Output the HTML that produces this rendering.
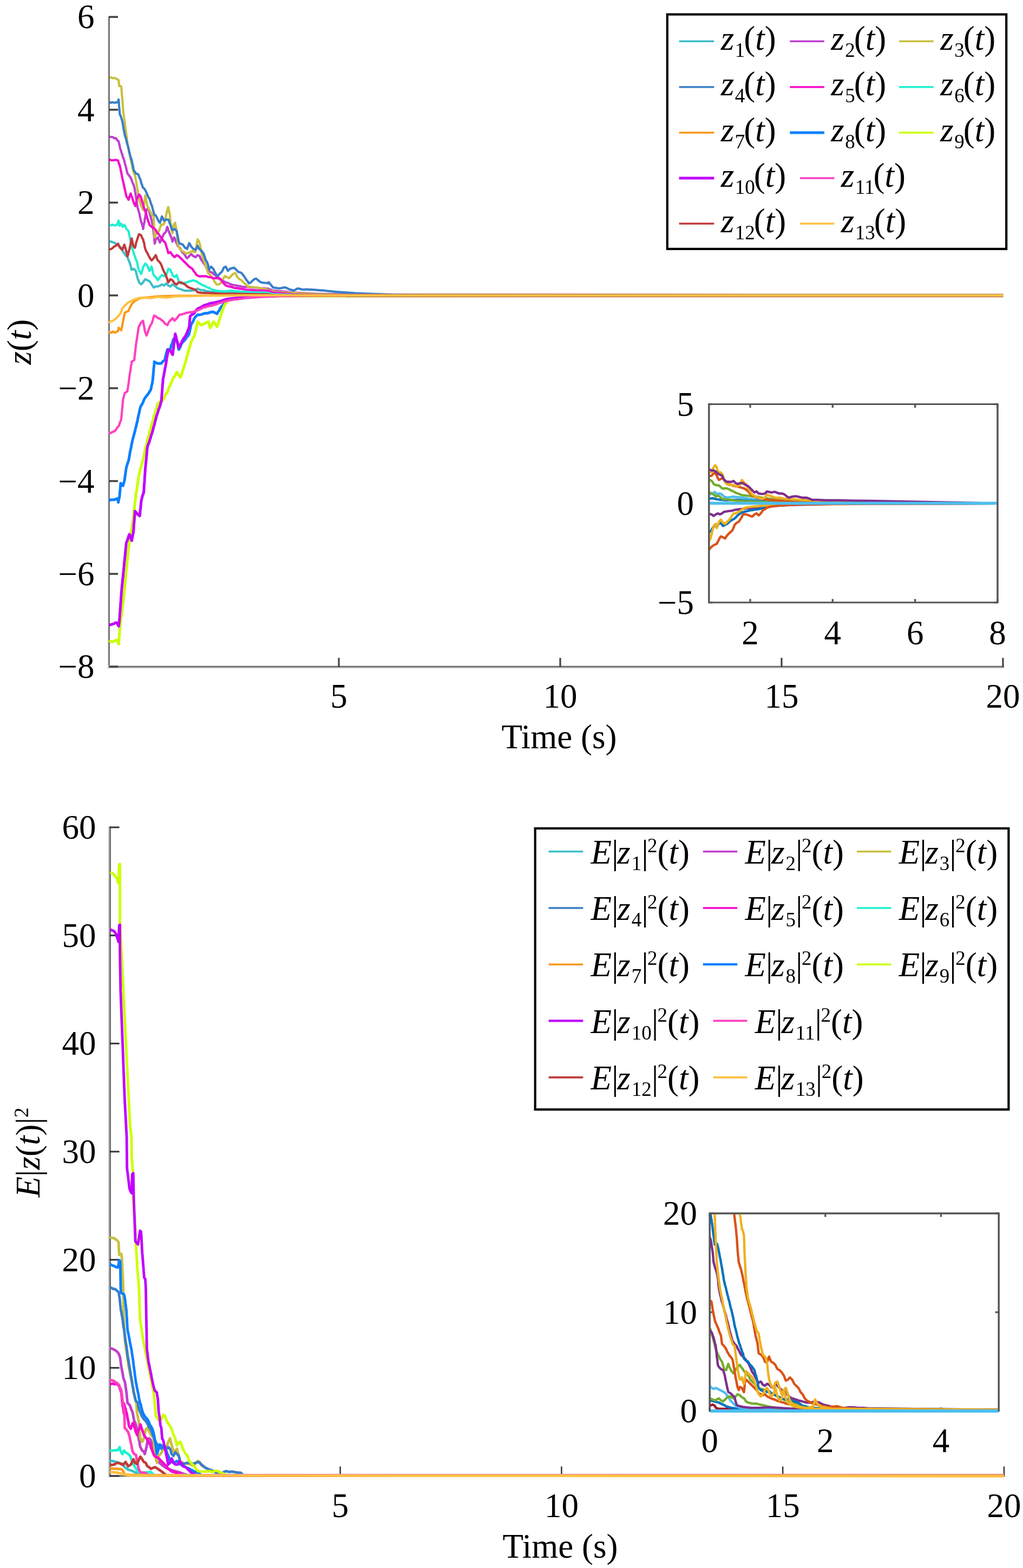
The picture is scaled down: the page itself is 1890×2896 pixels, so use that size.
<!DOCTYPE html>
<html><head><meta charset="utf-8"><title>Figure</title><style>html,body{margin:0;padding:0;background:#fff;}svg{display:block;}</style></head><body>
<svg width="1890" height="2896" viewBox="0 0 1890 2896" style="font-family: 'Liberation Serif', 'Times New Roman', serif;">
<rect width="1890" height="2896" fill="#fff"/>
<rect x="199.2" y="30" width="1.8" height="1204.4" fill="#bbbbbb"/>
<rect x="202.3" y="30" width="2.7" height="1198.8" fill="#eeeeee"/>
<rect x="201" y="30" width="1.3" height="1202.1" fill="#222222"/>
<rect x="199.2" y="1228.8" width="1655.8" height="2.1" fill="#c8c8c8"/>
<rect x="199.2" y="1232.1" width="1655.8" height="2.3" fill="#c8c8c8"/>
<rect x="201" y="1230.9" width="1654" height="1.2" fill="#222222"/>
<line x1="201.7" y1="31.3" x2="218" y2="31.3" stroke="#454545" stroke-width="3.6"/>
<text x="174.5" y="52.3" font-size="63" text-anchor="end">6</text>
<line x1="201.7" y1="202.7" x2="218" y2="202.7" stroke="#454545" stroke-width="3.6"/>
<text x="174.5" y="223.7" font-size="63" text-anchor="end">4</text>
<line x1="201.7" y1="374.2" x2="218" y2="374.2" stroke="#454545" stroke-width="3.6"/>
<text x="174.5" y="395.2" font-size="63" text-anchor="end">2</text>
<line x1="201.7" y1="545.6" x2="218" y2="545.6" stroke="#454545" stroke-width="3.6"/>
<text x="174.5" y="566.6" font-size="63" text-anchor="end">0</text>
<line x1="201.7" y1="717" x2="218" y2="717" stroke="#454545" stroke-width="3.6"/>
<text x="174.5" y="738" font-size="63" text-anchor="end">−2</text>
<line x1="201.7" y1="888.5" x2="218" y2="888.5" stroke="#454545" stroke-width="3.6"/>
<text x="174.5" y="909.5" font-size="63" text-anchor="end">−4</text>
<line x1="201.7" y1="1059.9" x2="218" y2="1059.9" stroke="#454545" stroke-width="3.6"/>
<text x="174.5" y="1080.9" font-size="63" text-anchor="end">−6</text>
<line x1="201.7" y1="1231.3" x2="218" y2="1231.3" stroke="#454545" stroke-width="3.6"/>
<text x="174.5" y="1252.3" font-size="63" text-anchor="end">−8</text>
<line x1="626" y1="1231.3" x2="626" y2="1215" stroke="#454545" stroke-width="3.2"/>
<text x="626" y="1306.5" font-size="63" text-anchor="middle">5</text>
<line x1="1035" y1="1231.3" x2="1035" y2="1215" stroke="#454545" stroke-width="3.2"/>
<text x="1035" y="1306.5" font-size="63" text-anchor="middle">10</text>
<line x1="1444" y1="1231.3" x2="1444" y2="1215" stroke="#454545" stroke-width="3.2"/>
<text x="1444" y="1306.5" font-size="63" text-anchor="middle">15</text>
<line x1="1853" y1="1231.3" x2="1853" y2="1215" stroke="#454545" stroke-width="3.2"/>
<text x="1853" y="1306.5" font-size="63" text-anchor="middle">20</text>
<text x="1033" y="1382" font-size="63" text-anchor="middle">Time (s)</text>
<polyline points="202.3,446.1 205,446 207.7,447.3 210.5,448.1 214.3,450.6 218.2,451.9 221.1,455.3 224,457.7 225.9,462.1 227.8,465.5 229.8,468.2 231.7,471.2 235.6,475.1 236.9,479 238.1,481.6 239.4,484.8 240.2,486.6 241,490.1 241.7,491.9 242.5,496.5 243.3,498.3 247.2,496.4 251,500.2 251.7,504.4 252.3,506.3 253,509.9 253.9,512.4 254.9,516.2 255.9,518.1 256.8,521.5 260.7,525.3 264.5,521.5 266.5,518.1 268.4,515.7 272.3,517.6 276.1,519.5 278.1,522 280,525.3 281.9,528.1 283.9,531.1 287.7,529.2 291.6,529.2 295.5,527.3 299.3,525.3 303.2,527.3 307,523.4 310.9,527.3 314.8,529.2 318.6,525.3 322.5,527.3 326.4,531.1 330.2,533.1 333.1,534.1 336,535 338.9,536.2 341.8,536.9 345.7,536.8 349.5,536.9 352.8,536.9 356,536.3 359.2,536 362.1,534.8 365,533.1 368.9,535 372.1,535.8 375.3,536.1 378.5,536.9 381.7,537.6 385,538.1 388.2,538.9 407.5,539.8 446.1,540.8 495,541.8 504.1,544.3 542.7,545.1 1853,545.6" fill="none" stroke="#3ebfc8" stroke-width="4.2" stroke-linejoin="round" stroke-linecap="butt"/>
<polyline points="202.3,252.3 205.3,253.2 208.3,253.1 211.3,255.5 214.3,255.2 216.7,259.1 219.1,261 219.7,263.7 220.3,266.8 220.9,268.5 221.5,271.2 222,274.5 223,276.8 224,280 224.9,283.3 225.9,285.2 226.9,289.7 227.8,291.6 228.6,293.4 229.4,296.3 230.2,298.8 230.9,303 231.7,305.1 232.5,307.9 233.2,311.2 234,314 234.8,317.8 235.6,320.6 238.5,324.2 241.4,328.3 242.7,330.9 243.9,334.6 245.2,338 246.7,341.4 248.1,345.7 248.7,347.9 249.3,352.6 249.9,355.4 250.4,358.4 251,361.1 251.4,364.6 251.7,366.2 252.1,368.8 252.5,371.6 252.8,374.2 253.2,377.4 253.6,378.6 253.9,382.4 254.9,385.5 255.9,388.9 256.8,392 257.4,394.4 258,396.4 258.6,400.6 259.1,401.8 259.7,405.6 260.7,408.9 261.6,411.2 262.6,415.2 263.6,418.1 264.5,423 265,419.4 265.5,416.2 266,413.5 266.5,411.8 267,409 267.4,405.6 267.9,402.4 268.4,400.1 268.9,396.8 269.4,394 269.9,391.9 270.3,388.2 274.2,384.3 275,387 275.7,391.3 276.5,394 277.3,397.1 278.1,399.8 278.8,401.8 279.6,405 280.4,408 281.2,411.8 281.9,415.2 282.3,418.9 282.7,421.4 283,423.9 283.4,425 283.7,429 284.1,431.8 284.5,434.5 284.8,436.5 285,439.8 285.2,441.1 285.4,443.9 285.6,447.9 285.8,450 286.8,446.7 287.7,442.3 291.6,438.4 292.9,442.5 294.2,444.7 295.5,448.1 296.7,445.7 298,440.8 299.3,438.4 300.8,436.5 302.2,432.6 306.1,428.7 307,426.4 308,422 309,419.1 309.9,421 310.9,424.9 312.2,428.2 313.5,431.7 314.8,434.5 315.7,437.1 316.7,439.4 317.7,442.8 318.6,446.1 320.1,443 321.5,438.4 323,440.4 324.4,444.2 325.7,448.4 327,450.1 328.3,453.9 332.2,457.7 334.1,460.9 336,465.5 338.9,467.5 341.8,471.2 343.7,475.2 345.7,477 349.5,473.2 353.4,469.3 357.3,473.2 361.1,475.1 365,471.2 368.9,473.2 370.8,477.9 372.7,480.9 374.7,483.4 376.6,486.7 378.5,488.7 380.5,492.5 383,496.1 385.6,499.8 388.2,502.2 391.4,503 394.6,506.3 397.8,508 401.1,511.3 404.3,513 407.5,515.7 410.7,517.7 413.9,520 417.2,521.5 420.4,522.4 423.6,523.8 426.8,525.3 429.6,526.1 432.3,526.5 435.1,527 437.9,527.4 440.6,528.6 443.4,528.4 446.1,529.2 448.9,529.7 451.7,530.1 454.4,529.9 457.2,529.9 459.9,530.3 462.7,530.5 465.5,531.1 468.1,531 470.8,531.2 473.5,531.5 476.2,531.7 478.9,532 481.6,532.3 484.3,532.5 486.9,532.7 489.6,532.6 492.3,533 495,533.1 498,534.3 501.1,535.2 504.1,536.6 506.8,536.9 509.6,537 512.4,537.5 515.1,537.8 517.9,537.8 520.6,538.2 523.4,538.5 526.2,538.7 528.9,538.9 531.7,539.2 534.4,539.8 537.2,540 540,540.1 542.7,540.4 581.4,542.4 658.6,544.3 1853,545.6" fill="none" stroke="#bf40cc" stroke-width="4.2" stroke-linejoin="round" stroke-linecap="butt"/>
<polyline points="202.3,143.2 205.3,142.9 208.3,144.4 211.3,143.9 214.3,145.1 219.1,148 219.4,151.1 219.6,153.6 219.9,155.7 220.1,158.6 224,159.6 224.2,162.5 224.5,165.1 224.7,166.6 224.9,170.2 225.1,172.9 225.4,175.7 225.6,178.1 225.8,181.5 226,183.9 226.2,185.7 226.4,188 226.6,190.4 226.8,194.5 227,196.9 227.2,199.3 227.4,201.6 227.6,204.3 227.8,206.9 228.2,209 228.5,212.3 228.9,214.1 229.2,217.7 229.6,220.4 229.9,223.1 230.3,224.8 230.7,227.1 231,230.3 231.4,233.7 231.7,235.9 232.1,238.6 232.4,241.7 232.8,243.7 233.1,246.2 233.5,250 233.8,251 234.2,253.7 234.5,257.2 234.9,259.9 235.2,262.1 235.6,264.9 236.1,267.6 236.6,270 237.1,273.2 237.7,276.3 238.2,278.8 238.7,281 239.3,283.3 239.8,286.9 240.3,288.5 240.8,291.5 241.4,293.9 242,297.4 242.6,299.8 243.2,301.9 243.8,305.4 244.4,307.9 245,311.3 245.6,313.2 246.4,316.2 247.2,318.6 248.6,322.6 250.1,326.4 250.5,330.3 251,332.2 251.5,334.8 252,338.9 252.5,341.8 253,343.7 253.4,345.9 253.9,348.6 254.4,353.2 254.9,356.2 255.4,358 255.9,360.6 256.3,364.4 256.8,366.9 257.6,370.6 258.4,371.7 259.1,374.9 259.9,378.1 260.7,380.5 262.6,383.7 264.5,388.2 264.9,385.3 265.3,382 265.7,380 266.1,376.8 266.5,373.7 266.9,371.7 267.2,368.5 267.6,365.7 268,363.1 268.4,361.1 269.1,364.2 269.7,367.2 270.3,370.8 271,374.5 271.6,377 272.3,380.5 274.2,383.8 276.1,388.2 278.1,391.4 280,395.9 283.9,399.8 284,402.2 284.1,406.1 284.2,407.8 284.3,411.3 284.5,414.9 284.6,417.9 284.7,420 284.8,423 285,426.8 285.2,429.4 285.4,431.6 285.6,434.4 285.8,438.4 287.7,433.8 289.7,430.7 293.5,426.8 294.5,424.6 295.5,420.8 296.4,418.9 297.4,415.2 301.2,415.2 303.2,412.4 305.1,407.5 305.7,405.7 306.2,401.9 306.8,398.1 307.3,396 307.9,393.1 308.4,391.3 309,388.2 309.9,385.7 310.9,382.4 311.5,386 312.1,388.2 312.6,391.5 313.2,393.5 313.8,395.9 314,398.8 314.3,402.4 314.5,404.1 314.8,408.1 315,410.9 315.3,414.1 315.5,415.2 315.7,419.1 316.5,421.3 317.2,425.9 317.9,427 318.6,430.7 319,427.5 319.4,424.7 319.8,421.4 320.2,419.2 320.6,415.2 323.5,411.4 324,415.5 324.6,417.2 325.2,419.8 325.8,424.6 326.4,426.8 326.6,429.6 326.8,432.1 327.1,434.7 327.3,437.3 327.6,441.5 327.8,443.7 328.1,447.2 328.3,450 329.6,454.2 330.9,456.4 332.2,459.7 336,463.5 339.9,465.5 343.7,468.4 347.6,467.4 351.5,465.5 355.3,463.5 358.2,465.5 361.1,465.5 361.6,461.6 362.1,460.2 362.6,457.3 363.1,454.9 363.5,449.9 364,448.1 364.5,445.3 365,442.3 367.9,446.1 368.9,450.2 369.8,453.9 370.4,456.9 371,459.5 371.6,464 372.1,467.1 372.7,469.3 373.7,472.7 374.7,476.1 375.6,478.1 376.6,480.9 377.6,482.9 378.5,487.1 379.5,488.7 380.5,492.5 381.4,495.9 382.4,498.6 383.4,500.5 384.3,504.1 388.2,508 392,511.8 394,515.1 395.9,519.5 397.8,521.8 399.8,525.3 403.6,525.3 407.5,523.4 409.4,519 411.4,515.7 413.3,513.7 415.2,509.9 419.1,511.8 423,513.7 426.8,509.9 430.7,506 434.5,504.1 436.5,507.4 438.4,511.8 442.3,515.7 446.1,517.6 449,521.1 451.9,523.4 454.8,525.9 457.7,529.2 461.6,529.5 465.5,530.2 468.7,530.5 471.9,530.7 475.1,531.1 478.3,532.2 481.6,532.2 484.8,533.1 488.2,533.7 491.6,534.2 495,535 496.4,536.6 499.4,537 502.5,537.9 505.6,538.4 508.7,539 511.8,539.7 542.7,541.2 581.4,542.8 620,543.5 697.3,544.3 1853,545.6" fill="none" stroke="#c8c040" stroke-width="4.2" stroke-linejoin="round" stroke-linecap="butt"/>
<polyline points="202.3,188.6 205,189.8 207.6,188.8 210.3,189.5 212.9,189.7 215.5,188.8 218.2,189.5 218.7,185.7 219.1,183.7 219.4,186.8 219.6,188.5 219.8,191.9 220,195.8 220.2,198.5 220.4,199.7 220.7,202.4 220.9,205.5 221.1,208.9 222,212.7 223,214 224,217.5 224.9,220.4 225.9,224.3 226.4,226.2 226.9,229.7 227.4,231.6 227.8,234.7 228.3,238.1 228.8,240.7 229.3,242.7 229.8,245.6 230.5,248.8 231.2,251 231.9,254.2 232.6,255.6 233.3,258.5 234,261.5 234.7,265 235.4,266.9 236.1,269.2 236.8,271.4 237.5,274.5 238,276.8 238.5,280 239.4,282.5 240.4,287.3 241.4,290.1 242.3,293.2 243.3,295.5 243.8,298.3 244.4,301.4 245,303.3 245.5,306.5 246.1,308.5 246.6,311.8 247.2,314.8 249.1,317.1 251,320.6 254.9,321.5 256.2,323.6 257.5,328.3 258.7,330.2 259.7,332.4 260.7,337.1 261.6,339.9 262.6,341.7 263.6,345.7 267.4,349.5 269.4,353.4 271.3,357.3 272.9,361.6 274.5,364.8 276.1,366.9 277.1,370 278.1,373.3 279,376.1 280,378.5 281,381.3 281.9,385.1 282.9,388.2 283.9,392.3 284.8,395.9 287.7,397.8 289.7,401.5 291.6,405.6 293.5,409.2 295.5,411.4 296.4,408.3 297.4,406.1 298.4,401.7 299.3,399.8 301.2,403.5 303.2,407.5 307,405.6 310.9,405.6 312.2,407.8 313.5,412.3 314.8,415.2 316.1,419.3 317.3,421.8 318.6,424.9 322.5,423 326.4,426.8 326.9,429.7 327.5,432.6 328,434.5 328.6,437.6 329.1,440.8 329.7,443.7 330.2,446.1 332.2,450 335.1,450.7 338,451.9 339.9,454.8 341.8,457.7 345.7,459.7 346.6,456.6 347.6,454.5 348.6,452.1 349.5,449 351.5,452 353.4,455.8 357.3,459.7 361.1,461.6 363.1,458.1 365,453.9 366.9,458 368.9,460.6 372.7,463.5 374.7,466.5 376.6,469.3 377.6,473.3 378.5,474.7 379.5,478.9 380.5,480.9 382.4,484.1 384.3,488.6 385,491.6 385.6,495.8 386.2,498.3 388.2,494.4 390.1,492.5 394,496.4 395.9,500.5 397.8,504.1 399.8,507.8 401.7,509.9 405.6,506 409.4,502.2 411.4,499.3 413.3,494.4 417.2,492.5 419.1,496.8 421,500.2 424.9,496.4 428.7,495.4 432.6,494.4 436.5,498.3 440.3,502.2 443.2,502.8 446.1,504.1 449,507.6 451.9,511.8 453.9,515 455.8,517.6 457.7,519.9 459.7,523.4 463.5,521.5 467.4,517.6 470.3,515.3 473.2,514.7 477,517.6 479.9,520.1 482.8,521.5 485.7,522.1 488.6,522.4 491.8,522.5 495,523.4 496.4,521.1 498.9,524.3 501.5,527.3 504.1,530.8 507,531.6 509.9,531.6 512.8,532.4 515.7,532.7 518.6,532.4 521.5,531.6 524.4,531 527.3,530.8 531.1,532.7 535,534.6 538.9,535.5 542.7,536.6 546.6,534.7 550.4,532.7 554.3,533.6 558.2,534.6 561.3,534.8 564.4,534.6 567.4,534.4 570.5,534.8 573.6,534.6 576.7,535.1 579.8,535.2 582.9,535.4 586,535.8 589.1,535.8 592.2,536.4 595.3,536.2 598.3,536.7 601.4,536.8 604.5,537.3 620,538.9 658.6,541.6 697.3,543.1 735.9,544.3 795,545.1 1853,545.6" fill="none" stroke="#3a7ec8" stroke-width="4.2" stroke-linejoin="round" stroke-linecap="butt"/>
<polyline points="202.3,294.5 205,295.8 207.6,296 210.3,296 212.9,295.2 215.5,295.7 218.2,296.4 219.1,300 220.1,303.4 221.1,304.8 222,309 222.6,311 223.1,315.4 223.7,316.4 224.3,320.4 224.8,322.4 225.4,325.9 225.9,328.3 226.6,332 227.2,334.3 227.8,336.7 228.5,339.5 229.1,343.1 229.8,345.7 230.4,348.9 231.1,351.3 231.7,354.3 232.3,357.4 233,359.6 233.6,363.1 235.6,365.3 237.5,368.9 238.5,366.1 239.4,362.2 240.4,360.4 241.4,357.3 242.8,361.8 244.3,365 245.2,368.9 246.2,370.9 247.2,374.7 248.6,377.4 250.1,380.5 250.6,378.7 251.2,374.7 251.8,373.4 252.4,369 253,366.9 254.9,363.8 256.8,359.2 258.7,361.1 260.7,365 261.5,368.1 262.2,371.1 263,373.2 263.8,376.1 264.5,378.5 265.5,382.3 266.5,385.4 267.4,386.5 268.4,390.1 269.2,392.9 270,394.5 270.7,398 271.5,400.1 272.3,403.6 273.2,405.8 274.2,409.7 275.2,411.4 276.1,415.2 280,419.1 282.9,420.3 285.8,423 287.7,424.8 289.7,428.7 293.5,432.6 295.5,436.2 297.4,438.4 299.3,440.7 301.2,444.2 305.1,448.1 306.1,450 307,454.1 308,457.2 309,459.7 309.9,463.8 310.9,467.4 314.8,465.5 316.7,468.5 318.6,471.2 322.5,475.1 326.4,471.2 330.2,473.2 334.1,477 338,480.9 341.8,484.8 345.7,488.6 349.5,492.5 352.4,494.5 355.3,496.4 357.3,499.7 359.2,502.2 361.1,504.6 363.1,508 366.9,509.9 369.8,510.6 372.7,509.9 376.6,510.3 380.5,509.9 384.3,511.6 388.2,511.8 391.4,513.2 394.6,513.8 397.8,513.7 400.7,513.8 403.6,513.7 406.5,515.7 409.4,517.6 411.4,520.9 413.3,523.4 417.2,527.3 420.1,528.3 423,529.2 426.8,529.7 430.7,531.1 433.6,532 436.5,531.9 439.4,532.6 442.3,533.1 445,533.4 447.7,533.6 450.4,534.3 453.1,534.7 455.8,535 459,535.5 462.2,535.7 465.5,536 468.1,535.9 470.8,536.2 473.5,536.5 476.2,536.4 478.9,536.6 481.6,536.2 484.3,536.7 486.9,536.5 489.6,536.6 492.3,536.8 495,536.9 498,538 501.1,539.1 504.1,540.4 542.7,543.5 581.4,544.3 1853,545.6" fill="none" stroke="#f50acb" stroke-width="4.2" stroke-linejoin="round" stroke-linecap="butt"/>
<polyline points="202.3,415.2 205.1,416.1 207.9,414.9 210.7,415.9 213.5,416.2 216.2,415.2 217.7,410.9 219.1,407.5 219.8,411.3 220.4,413.6 221.1,417.2 224,413.3 225.4,415.5 226.9,419.1 229.8,415.2 231.7,418.8 233.6,423 237.5,426.8 238.1,430.1 238.6,431.6 239.2,435.4 239.7,437.5 240.3,439.9 240.8,443.2 241.4,446.1 242.1,449 242.9,452.2 243.7,456.2 244.5,459.4 245.2,461.6 246.2,463.9 247.2,468.5 248.1,470.5 249.1,473.2 250.4,477.4 251.7,480.3 253,482.8 253.6,485.8 254.2,488.1 254.9,492.5 255.5,495.5 256.2,497.6 256.8,500.2 258.7,502.3 260.7,506 261.5,504 262.2,501.2 263,498.7 263.8,496.3 264.5,492.5 266.5,490.6 268.4,486.7 272.3,490.6 273.6,494.3 274.8,496.8 276.1,500.2 278.1,496.4 280,492.5 280.8,495.6 281.5,499.3 282.3,502 283.1,505.6 283.9,508 287.7,511.8 289.7,514.7 291.6,517.6 293.5,514.9 295.5,511.8 299.3,508 303.2,509.9 307,508 308,506.1 309,502.8 309.9,500.2 310.9,496.4 314.8,498.3 316.1,502 317.3,503.9 318.6,508 322.5,511.8 326.4,508 327.3,510.7 328.3,513.3 329.3,516.2 330.2,519.5 334.1,523.4 338,523.4 341.8,521.9 345.7,521.5 348.6,519.9 351.5,519.5 354.4,518.5 357.3,517.6 360.2,519 363.1,519.5 366,522 368.9,523.4 372.7,525.9 376.6,527.3 380.5,529.3 384.3,531.1 388.2,532.7 392,535 395.9,535.8 399.8,536.9 403.6,537.2 407.5,537.9 417.2,537.9 420.4,537.8 423.6,537.2 426.8,536.9 430,537.4 433.3,537.5 436.5,537.9 446.1,538.9 465.5,539.8 495,540.8 504.1,543.5 542.7,544.7 1853,545.6" fill="none" stroke="#20f0d0" stroke-width="4.2" stroke-linejoin="round" stroke-linecap="butt"/>
<polyline points="200.8,613.4 203.5,613.8 206.2,614.3 208.9,612.3 211.6,614.3 214.3,613.4 218.2,611.1 218.7,608.9 219.1,605.3 224,610.1 224.5,606.5 225,605.5 225.6,602.8 226.1,598.7 226.7,597.8 227.2,594.1 227.7,591.1 228.3,588.6 228.8,586.3 229.3,583.7 229.9,581.2 230.4,578 233.6,575.9 236.9,574.7 238.5,571.5 240.1,567.8 241.7,564.8 243.3,561.9 246.5,558.6 249.7,555.4 253,553.6 256.2,552.1 259.4,550.6 275.5,549 291.6,547.4 323.8,546.4 388.2,545.8 452.6,545.4 1853,546.2" fill="none" stroke="#f7991a" stroke-width="4.2" stroke-linejoin="round" stroke-linecap="butt"/>
<polyline points="201.6,924.3 204.7,923 207.8,923 210.9,923.1 214,921.7 217.1,920.6 217.8,924.2 218.5,927.9 219.3,924.1 220,920.3 220.7,917.6 221,916 221.2,912.7 221.5,908.8 221.7,906.7 222,904.2 222.2,901.9 222.5,897.7 222.7,895 222.9,892.6 227.4,897.1 228.1,893.4 228.8,891.4 229.6,889.2 230.3,885.3 230.7,882.9 231.1,878.6 231.6,876.2 232,872.6 232.4,869.8 232.8,867.6 233.2,864.7 234.1,861 235,858.3 235.9,855.3 236.8,852.8 237.6,850 238.2,848 238.7,843.9 239.2,841.9 239.7,838.7 240.2,835.6 240.7,832.9 241.2,831.2 241.8,828.5 242.3,825.5 242.8,823.1 243.3,819.4 244,817.2 244.7,813.5 245.4,810.6 246.1,808.5 246.7,805.9 247.4,803.5 248.1,801 248.8,798 249.5,795.6 250.2,792.2 250.9,789.5 251.6,787 252.3,783.5 253,780.8 253.5,778.8 254.1,776.3 254.7,772.9 255.3,769.9 255.9,767.4 256.5,765.2 257.1,762.5 257.6,759.7 258.2,756.8 258.8,755 259.4,751.8 261,749 262.6,746.3 264.2,743.2 265.8,738.9 268,734.6 270.1,732.3 272.3,729.3 274.4,726.6 276.6,722.9 278.7,719.6 279.2,717.2 279.8,713.7 280.3,711.3 280.9,709.7 281.4,706.6 281.9,703.5 282.2,701.6 282.4,699 282.7,696.3 282.9,693.4 283.2,690.8 283.4,688 283.7,685.4 283.9,681.5 284.2,678.8 284.4,676.2 284.7,674.1 284.9,671.9 285.1,668.1 288.4,670.1 291.6,671.3 294.8,671.2 298,671.3 301.2,667.2 304.5,664.9 305.2,661.3 305.8,658.4 306.5,655.8 307.2,652.7 307.9,650.9 308.6,647.9 309.3,645.6 314.1,645.6 315,643.8 316,639.3 316.9,636.4 317.8,635.4 318.7,632.7 319.6,629 320.6,626.2 323.8,627.9 327,629.5 327.5,631.8 328.1,634.6 328.6,637 329.2,639.3 329.7,643.9 330.2,645.6 331.8,643.2 333.4,639.9 335.1,635.1 336.7,632.7 339.9,629.8 343.1,626.2 345.2,622.1 347.4,620.3 349.5,616.6 350.1,613 350.6,611.5 351.2,607.8 351.7,606.9 352.2,604.1 352.8,600.5 354.4,597.1 356,595 357.6,591.5 359.2,587.6 362.4,583.7 365.6,581.2 368.9,581.4 372.1,580.9 375.3,579.6 378.5,578.5 381.7,578.8 385,578 388.2,577 391.4,576 394.6,576.3 397.8,577.9 401.1,579.6 402.7,576.1 404.3,574.5 405.9,571.4 407.5,568.3 410.7,564.8 413.9,561.9 417.2,558.6 420.4,555.4 423.1,554.4 425.7,553.7 428.4,553 431.1,552.3 433.8,551.6 436.5,550.6 452.6,548.3 484.8,547 549.2,545.8 1853,545.6" fill="none" stroke="#0a7fff" stroke-width="5.0" stroke-linejoin="round" stroke-linecap="butt"/>
<polyline points="201.6,1186 204.4,1184.5 207.2,1185.3 210,1184.7 212.8,1182.8 215.6,1182.4 217.4,1185.5 219.3,1189.7 219.5,1186.2 219.7,1183.2 219.9,1180.7 220.1,1177.8 220.3,1176.4 220.5,1172.2 220.7,1169.4 220.9,1168.2 221.1,1165.4 221.3,1160.8 221.5,1158.8 221.8,1155.8 222.1,1154.6 222.5,1150.6 222.8,1148.4 223.1,1145.9 223.5,1143.1 223.8,1139.1 224.1,1137.9 224.5,1135.5 224.8,1132 225.1,1129.1 225.5,1127.2 225.8,1125.1 226.1,1122.4 226.5,1118.1 226.8,1116.6 227.2,1113.3 227.5,1111.8 227.8,1109.1 228.2,1105.3 228.5,1103.6 228.8,1100 229.1,1098.2 229.4,1093.8 229.6,1091.8 229.9,1090.3 230.2,1086 230.4,1083.8 230.7,1081.6 231,1078.3 231.2,1076.6 231.5,1072.6 231.8,1070.8 232,1068 232.3,1064.2 232.6,1063.2 232.8,1060.5 233.1,1058 233.4,1053.9 233.6,1051.9 233.9,1048.4 234.2,1047 234.4,1044.1 234.7,1042 235,1037.7 235.2,1035.3 235.5,1032.2 235.8,1031.4 236,1028.1 236.3,1024.3 236.6,1023 236.8,1019.7 237.1,1016.9 237.4,1015.1 237.6,1011.8 238.1,1009.5 238.6,1006.2 239,1003 239.5,1000.5 239.9,997.7 240.4,994.5 240.9,991.7 241.3,989.8 241.8,988 242.2,984.4 242.7,981.2 243.2,977.6 243.6,976.8 244.1,972.8 244.5,970 245,967.6 245.3,965.4 245.6,963.1 245.9,958.7 246.2,955.9 246.5,953.5 246.9,952.5 247.2,948.7 247.5,945.1 247.8,943.6 248.1,940.6 248.4,937 248.7,934.2 249,932.1 249.3,930.8 249.6,926.9 250,925.4 250.3,921.3 250.6,918.5 250.9,916.2 251.3,912.7 251.7,911.1 252.1,907.5 252.5,906.6 252.8,903.2 253.2,899.2 253.6,897.9 254,894.9 254.4,892.7 254.8,889.9 255.2,886.2 255.6,884.4 256,882.1 256.4,878.2 256.8,876.5 257.5,874.7 258.2,871.6 259,867.9 259.7,864.9 260.4,863 261.2,860.9 261.9,858.2 262.6,854.5 263.4,852.9 264.1,850 264.7,847.4 265.2,843.9 265.8,842 266.3,839.6 266.9,837.1 267.4,833.1 268,830.3 268.5,829 269.1,825.9 269.8,824.3 270.5,820.6 271.2,818.7 271.9,814.9 272.6,811.7 273.3,810.1 274.1,806.6 274.8,805.2 275.5,802.3 276.2,798 276.9,795.9 277.6,794.3 278.4,790 279.1,787.7 279.8,784.6 280.5,783.4 281.2,781.3 281.9,777.6 282.7,775.3 283.5,773.1 284.3,768.9 285.1,767.5 286,765.2 286.8,762.2 287.6,758.2 288.4,755.7 289.2,754.4 290,751.2 290.8,747.9 291.6,745.4 294.8,742.7 298,740.1 301.2,738.9 302.6,736.8 304,733.6 305.4,729.9 306.8,727.1 308.1,726.2 309.5,723.3 310.9,719.6 312.1,715.7 313.3,713.3 314.5,712 315.7,708.2 316.9,706.3 318.1,702.7 319.4,699.6 320.6,697.1 322.7,694.9 324.9,690.2 327,687.4 329.2,691.6 331.3,694.5 333.4,697.1 334.4,693.5 335.3,692.5 336.2,689.8 337.1,685.2 338,683.4 339,680.5 339.9,677.8 340.7,674.4 341.5,672.6 342.3,670.2 343.1,667.3 343.9,664.4 344.7,660.7 345.5,658.4 346.3,655.2 347.1,653.2 347.9,649.2 348.7,647.3 349.5,643.8 350.3,642 351.2,638 352,635.6 352.8,632.7 354.4,629.4 356,625.5 357.6,623 359.2,619.8 359.9,617.5 360.6,614.4 361.3,612.2 362.1,609 362.8,604.7 363.5,602.6 364.2,599.7 364.9,595.9 365.6,594.1 368.9,598.2 372.1,600.5 375.3,599.2 378.5,597.3 381.7,595.3 385,594.1 385.8,597.1 386.6,600 387.4,603.1 388.2,605.3 389.8,603.4 391.4,599.8 393,596.9 394.6,594.1 396.8,597.4 398.9,599.9 401.1,603.7 402,599.9 402.9,598.7 403.8,595.9 404.7,591.8 405.7,589.6 406.6,586.6 407.5,584.4 408.4,580.8 409.3,579.3 410.3,575.9 411.2,573 412.1,570.9 413,568.2 413.9,565.1 416.1,561.6 418.2,558.7 420.4,555.4 423.1,554.5 425.7,553.7 428.4,552.9 431.1,552.1 433.8,551.3 436.5,550.6 452.6,548.3 484.8,547 1853,545.6" fill="none" stroke="#ccff00" stroke-width="5.0" stroke-linejoin="round" stroke-linecap="butt"/>
<polyline points="201.6,1155.1 204.4,1153.6 207.2,1153 210,1152.2 212.8,1150.2 215.6,1150 217.4,1153.3 219.3,1156.6 219.6,1154.5 220,1150.5 220.4,1147.3 220.7,1144.1 220.9,1142 221.1,1138.6 221.3,1135.5 221.5,1134 221.7,1129.8 221.9,1128.7 222.1,1126 222.3,1122.6 222.5,1119.8 222.7,1116.1 222.9,1113.6 223.1,1112.2 223.3,1109.4 223.4,1106.5 223.6,1102.7 223.8,1101.3 224,1099.1 224.2,1096.2 224.4,1092.6 224.7,1090.3 225,1087 225.2,1084.2 225.5,1080.9 225.8,1077.9 226.1,1077.1 226.3,1073.1 226.6,1070.3 226.9,1067.8 227.2,1066.1 227.4,1063.2 227.7,1060 228,1057.4 228.3,1054.1 228.5,1051.6 228.8,1048.5 229.1,1046.5 229.3,1043.5 229.6,1039.5 229.9,1037.7 230.1,1035.3 230.4,1032.8 230.6,1030.7 230.9,1027.7 231.2,1024.2 231.4,1021.7 231.7,1019.6 231.9,1016.9 232.2,1013.4 232.5,1010.8 232.7,1008.6 233,1005.6 233.2,1002.9 234.2,1000.6 235.2,998.3 236.2,994.7 237.2,992.3 238.1,988.8 239.1,986.8 240.2,990.4 241.3,993.1 242.4,995.8 243.5,998.5 244,995.5 244.5,992.2 245,989.9 245.5,987.2 246,985.6 246.5,982.4 246.7,979.8 246.9,977.7 247.1,975.1 247.3,970.9 247.5,967.9 247.7,966.5 247.9,963.1 248.2,961.2 248.4,957.7 248.6,954.4 248.8,953.3 249,950.1 249.2,947.5 249.4,944.1 252.4,947.5 255.3,951 258.2,952.9 258.5,951.1 258.8,946.6 259,944 259.3,941.2 259.6,940.1 259.8,936.9 260.1,934.7 260.4,930.7 260.6,928.2 260.9,927 261.2,923.5 262.1,920.9 262.9,916.9 263.8,913.9 264.7,912.4 265.6,908.8 265.8,906.8 266,902.5 266.1,901.6 266.3,897 266.5,894.8 266.7,892.6 266.9,890.2 267.1,887.6 267.2,883 267.4,880.7 267.6,877.7 267.8,874.8 268,873.4 268.2,869.4 268.3,867.3 268.5,864.7 268.8,862.2 269.1,859.4 269.4,856 269.7,853.4 270,850 270.3,847.7 270.5,844 270.8,841.3 271,840.3 271.3,836.1 271.5,834.8 271.8,830.2 272,828.1 272.3,825.9 273.1,823.6 274,820 274.9,819.1 275.8,815.6 276.7,813.5 277.5,810.4 278.4,808.2 279.3,804 280.2,801.9 281.1,799 281.9,796.9 282.6,793.8 283.4,790.3 284.1,787.5 284.8,785.5 285.5,783.6 286.2,780 286.9,777.2 287.7,774.9 288.4,771.1 289.2,768.7 290.1,766 291,763.4 291.9,760.7 292.8,757.2 293.6,754.4 294.5,753.5 295.4,750 296.3,748.1 297.1,743.8 298,742.2 298.2,739.5 298.4,737.8 298.6,733.2 298.8,732.7 299,728.7 299.2,726.5 299.4,724.1 299.6,721.4 299.8,718.2 300,717 300.2,712.9 300.4,709.7 300.6,707.1 300.8,706.6 301,702.3 301.2,700.3 301.8,697.1 302.3,694.8 302.9,691.7 303.4,688.5 303.9,686.5 304.5,683.3 305,679.4 305.5,677.8 306.1,674.5 306.5,672.3 307,669.8 307.4,667.1 307.8,663 308.3,660.4 308.7,659.6 309.1,655.5 309.6,654.5 310,651.9 310.5,649 310.9,645.6 315.7,648.8 317.3,652.5 319,655.2 319.3,651.4 319.6,650.5 320,646.7 320.3,644.9 320.7,642.4 321,637.7 321.4,635.6 321.7,632.6 322.1,629.7 322.4,628.6 322.7,625.3 323.1,622.3 323.4,619.9 323.8,616.6 324.5,619.6 325.2,621.3 325.9,625.3 326.6,628.4 327.4,631.3 328.1,634.4 328.8,636.2 329.5,639.7 330.2,642.3 331.8,639.7 333.4,635.8 335.1,633.7 336.7,629.5 338.8,625.9 341,623.1 343.1,619.8 344.2,616.9 345.2,615.3 346.3,612.5 347.4,609.6 348.5,606.8 349.5,603.7 349.8,601.1 350,598.7 350.2,595 350.5,591.7 350.7,589.8 350.9,588.2 351.2,584.4 353.8,581.3 356.5,580.3 359.2,578 361.3,574.6 363.5,571.8 365.6,569.9 368.9,568.6 372.1,566.9 375.3,565.1 378.5,563.6 381.7,562.7 385,561.5 388.2,560.2 390.9,559.7 393.5,559.3 396.2,558.9 398.9,558.3 401.6,557.6 404.3,557 407,556.5 409.6,555.7 412.3,554.7 415,553.7 417.7,552.9 420.4,552.2 452.6,549 484.8,547.4 549.2,545.8 1853,545.6" fill="none" stroke="#c000ff" stroke-width="5.0" stroke-linejoin="round" stroke-linecap="butt"/>
<polyline points="200.8,800.1 204.2,800 207.7,797.7 211.1,796.9 213.8,794.4 216.5,789.9 219.1,787.2 220.4,784 221.6,780.3 222.8,777.7 224,774.3 224.2,770.7 224.5,768.7 224.7,765.8 225,762.4 225.2,761.4 225.5,758.9 225.7,754.5 226,752.8 226.2,749.9 226.5,746.9 226.7,744.6 226.9,742 227.2,738.9 228,735.2 228.8,732.2 229.6,729.3 230.4,726.1 235.2,722.8 235.6,721.1 236,718.1 236.5,715 236.9,711.5 237.3,709.6 237.7,707 238.1,704 238.5,700.3 238.9,696.9 239.3,694.7 239.7,691.6 240.1,689.5 240.5,687.7 240.9,684.2 241.3,681.1 241.7,678.1 242.1,675.4 242.5,674.2 242.9,671.8 243.3,668.1 248.1,664.9 248.4,663.1 248.7,658.5 249,656.5 249.3,653.6 249.6,651.6 249.9,648.4 250.2,646.4 250.5,643.7 250.8,641.5 251.1,638.6 251.3,635.9 251.7,633.2 252.1,629.5 252.6,628.8 253,625 253.4,623.3 253.8,619.4 254.2,616.2 254.6,615.5 255,611.7 255.4,608.3 255.8,607.4 256.2,603.7 257.8,601.4 259.4,597.3 264.2,592.4 264.8,594.5 265.3,599.3 265.8,600.5 266.4,603.4 266.9,606.4 267.4,610.1 268.5,614.2 269.6,616.8 270.7,619.8 271.9,616.7 273.1,613.8 274.3,609.7 275.5,606.9 277.1,602.7 278.7,599.6 280.3,597.3 281.3,593.8 282.3,591.7 283.2,587.6 284.2,584.7 285.1,582.8 288.4,584.5 291.6,587.6 294.8,588.1 298,590.8 301.2,593.1 304.5,597.3 309.3,600.5 310.9,597 312.5,594.3 314.1,592.4 319,587.6 322.2,592.4 327,587.6 329.4,584 331.8,581.2 335.1,581.1 338.3,579.6 341,579.4 343.6,577.5 346.3,578 349.5,576.6 352.8,576.6 356,576.3 359.2,575.2 362.4,574.1 365.6,573.1 368.9,571.6 372.1,570.2 375.3,568.3 378.5,567.7 381.7,566.4 385,565.6 388.2,565.1 390.9,564.8 393.5,563.5 396.2,563.1 398.9,562.3 401.6,561.3 404.3,560.2 407,559.5 409.6,558.8 412.3,557.7 415,556.8 417.7,556.2 420.4,555.4 423.1,554.8 425.7,554.4 428.4,554 431.1,553.6 433.8,553.2 436.5,552.8 439.2,552.7 441.8,552 444.5,551.9 447.2,551.5 449.9,550.9 452.6,550.6 484.8,548.3 517,547 581.4,545.8 1853,545.6" fill="none" stroke="#ff40c0" stroke-width="4.2" stroke-linejoin="round" stroke-linecap="butt"/>
<polyline points="202.3,460.6 205.4,459.9 208.5,457.7 211.4,455.2 214.3,453.9 218.2,450 220.1,454.8 222,457.7 225.9,461.6 227.2,458.4 228.5,454.9 229.8,451.9 230.5,454.9 231.3,456.6 232.1,459.4 232.9,462.6 233.6,465.5 234.6,468.7 235.6,473.2 236.3,470.9 237.1,467.6 237.9,464.8 238.7,461.9 239.4,459.7 240,456.3 240.5,454.6 241.1,452.3 241.6,448.3 242.2,446.5 242.7,442.7 243.3,440.3 243.9,443.6 244.5,445.2 245,448.6 245.6,451 246.2,453.9 249.1,457.7 249.9,455.8 250.6,452.9 251.4,448.7 252.2,446 253,444.2 253.9,441.2 254.9,437.8 255.9,434.9 256.8,432.6 260.7,434.5 262.6,439.4 264.5,442.3 265.2,446.1 265.8,447 266.5,449.9 267.1,454.1 267.8,457.7 268.4,459.7 270.3,464.4 272.3,467.4 274.2,471.7 276.1,475.1 278.1,478.5 280,480.9 283.9,477 285.8,474.1 287.7,471.2 289,474.4 290.3,478.5 291.6,480.9 295.5,484.8 297.4,487.8 299.3,492.5 300.6,496.1 301.9,499.4 303.2,502.2 305.1,505.3 307,509.9 308,513.3 309,515.1 309.9,519.3 310.9,521.5 312.8,519 314.8,515.7 318.6,517.6 320.6,520.4 322.5,523.4 326.4,525.3 330.2,521.5 334.1,521.5 338,523.4 341.8,525.3 345.7,529.2 349.5,531.1 352.4,532.2 355.3,533.1 358.2,534.4 361.1,535 365,539.8 372.7,540.8 384.3,541.2 407.5,542.3 495,543.7 504.1,545.1 1853,546.2" fill="none" stroke="#c03a3a" stroke-width="4.2" stroke-linejoin="round" stroke-linecap="butt"/>
<polyline points="200.8,595.7 204.2,594 207.7,592.8 211.1,590.8 214.3,587.9 217.5,584.8 220.8,581.2 222.4,578.7 224,575.2 225.6,571 227.2,568.3 230.4,564.7 233.6,561.8 236.9,558.6 240.1,557 243.3,555.7 246.5,553.8 256.2,550.6 265.8,549.6 278.7,550.6 291.6,548.3 307.7,549.6 323.8,547.4 356,546.4 388.2,545.8 452.6,545.4 1853,545.4" fill="none" stroke="#ffc040" stroke-width="4.2" stroke-linejoin="round" stroke-linecap="butt"/>
<polyline points="640,545.9 1853.5,545.9" fill="none" stroke="#c98c58" stroke-width="6.6" stroke-linejoin="round" stroke-linecap="butt"/>
<polyline points="640,545.6 1853.5,545.6" fill="none" stroke="#ffc63e" stroke-width="3.4" stroke-linejoin="round" stroke-linecap="butt"/>
<text transform="translate(57,631.5) rotate(-90)" font-size="63" text-anchor="middle"><tspan font-style="italic">z</tspan>(<tspan font-style="italic">t</tspan>)</text>
<rect x="200.1" y="1526.5" width="1.8" height="1201.5" fill="#c0c0c0"/>
<rect x="202.2" y="1526.5" width="2.7" height="1201.5" fill="#666666"/>
<rect x="202.2" y="2724.6" width="1654.3" height="2.8" fill="#666666"/>
<line x1="202.6" y1="1528" x2="220.6" y2="1528" stroke="#333333" stroke-width="3.0"/>
<text x="177.5" y="1549" font-size="63" text-anchor="end">60</text>
<line x1="202.6" y1="1727.7" x2="220.6" y2="1727.7" stroke="#333333" stroke-width="3.0"/>
<text x="177.5" y="1748.7" font-size="63" text-anchor="end">50</text>
<line x1="202.6" y1="1927.3" x2="220.6" y2="1927.3" stroke="#333333" stroke-width="3.0"/>
<text x="177.5" y="1948.3" font-size="63" text-anchor="end">40</text>
<line x1="202.6" y1="2127" x2="220.6" y2="2127" stroke="#333333" stroke-width="3.0"/>
<text x="177.5" y="2148" font-size="63" text-anchor="end">30</text>
<line x1="202.6" y1="2326.7" x2="220.6" y2="2326.7" stroke="#333333" stroke-width="3.0"/>
<text x="177.5" y="2347.7" font-size="63" text-anchor="end">20</text>
<line x1="202.6" y1="2526.3" x2="220.6" y2="2526.3" stroke="#333333" stroke-width="3.0"/>
<text x="177.5" y="2547.3" font-size="63" text-anchor="end">10</text>
<line x1="202.6" y1="2726" x2="220.6" y2="2726" stroke="#333333" stroke-width="3.0"/>
<text x="177.5" y="2747" font-size="63" text-anchor="end">0</text>
<line x1="628.6" y1="2725" x2="628.6" y2="2708.5" stroke="#3a3a3a" stroke-width="2.6"/>
<text x="628.6" y="2801.5" font-size="63" text-anchor="middle">5</text>
<line x1="1037.4" y1="2725" x2="1037.4" y2="2708.5" stroke="#3a3a3a" stroke-width="2.6"/>
<text x="1037.4" y="2801.5" font-size="63" text-anchor="middle">10</text>
<line x1="1446.2" y1="2725" x2="1446.2" y2="2708.5" stroke="#3a3a3a" stroke-width="2.6"/>
<text x="1446.2" y="2801.5" font-size="63" text-anchor="middle">15</text>
<line x1="1855" y1="2725" x2="1855" y2="2708.5" stroke="#3a3a3a" stroke-width="2.6"/>
<text x="1855" y="2801.5" font-size="63" text-anchor="middle">20</text>
<polyline points="203,2698.4 205.7,2698.2 208.4,2698.7 211.1,2699.2 213.8,2700.3 216.5,2700.5 219.1,2701.7 222.4,2702.8 225.6,2703.3 228,2706.3 230.4,2709.7 233.6,2711.9 236.9,2714.5 243.3,2716.2 249.7,2719.4 259.4,2725 291.6,2725 1855,2725" fill="none" stroke="#3ebfc8" stroke-width="4.8" stroke-linejoin="round" stroke-linecap="butt"/>
<polyline points="202.7,2490.7 206.6,2490.7 210.5,2492.6 213.4,2494.2 216.2,2496.5 218.2,2498.3 220.1,2502.3 221.1,2504.7 222,2508.1 222.4,2511.7 222.8,2514.7 223.2,2517.3 223.6,2521 224,2523.5 224.6,2526.6 225.3,2530.8 225.9,2533.2 226.4,2536.3 226.9,2538.2 227.4,2542 227.8,2544.8 229.3,2548.6 230.7,2552.5 231.2,2555.3 231.6,2557.4 232,2561.2 232.4,2562.9 232.8,2565.9 233.2,2568.5 233.6,2571.8 233.9,2574.1 234.2,2576.6 234.5,2580.7 234.7,2583.2 235,2584.6 235.3,2588.5 235.6,2591.1 239.4,2595 240.7,2597.3 242,2601.8 243.3,2604.7 244.9,2608.3 245.4,2610.8 246,2613.7 246.5,2616.9 247.1,2619.6 247.6,2622.1 248.1,2624.4 249.2,2626.6 250.3,2628.9 251.3,2632.4 251.9,2635.3 252.4,2637.9 253,2641.4 253.5,2644 254,2645.2 254.6,2648.3 255.1,2651.7 255.6,2653.7 256.2,2656.6 256.7,2660.3 257.2,2660.9 257.8,2664.4 258.3,2668.1 258.9,2671 259.4,2672.7 261,2675.9 262.6,2679.1 265.8,2680.7 267.4,2685.6 268.2,2681.9 269.1,2679.3 269.9,2675.5 270.7,2672.7 271.2,2669.9 271.7,2665.9 272.3,2663 273.9,2659.1 275.5,2656.6 278.7,2659.8 279.5,2663.2 280.3,2666.8 281.1,2669.4 281.9,2672.7 283,2676.1 284.1,2679.3 285.1,2682.3 286.2,2685.6 287.3,2688 288.4,2692 291.6,2696.8 294.8,2701.7 298,2704.9 301.2,2707.2 304.5,2709.7 307.7,2711.5 310.9,2712.9 314.1,2714 317.3,2715.2 320.6,2716.2 331.8,2719.4 347.9,2725 372.1,2725 1855,2725" fill="none" stroke="#bf40cc" stroke-width="4.8" stroke-linejoin="round" stroke-linecap="butt"/>
<polyline points="203.1,2284.8 206.8,2286.3 210.5,2286.7 213.4,2289 216.2,2290.6 219.1,2294.4 219.3,2297.1 219.4,2299.6 219.5,2303.5 219.6,2307.1 219.8,2308.8 219.9,2312.6 220,2313.7 220.1,2317.6 224,2315.7 224.5,2318.6 224.9,2321.5 225.1,2323.5 225.2,2326.8 225.3,2329.7 225.5,2332.9 225.6,2334.8 225.7,2338.3 225.9,2339.7 226,2341.9 226.1,2345.3 226.3,2348.6 226.4,2351.2 226.5,2352.4 226.7,2355.5 226.8,2358.2 226.9,2361.3 227.1,2364.8 227.2,2366.2 227.3,2368.4 227.4,2372.9 227.6,2375.5 227.7,2377.9 227.8,2380 227.8,2382 227.8,2385.5 227.8,2388.3 227.8,2392.9 227.8,2394.1 227.8,2398 227.9,2399.9 228,2402.9 228,2406.9 228.1,2408.3 228.2,2412.8 228.3,2414.1 228.3,2417.6 228.4,2419.4 228.5,2422.3 228.5,2426.4 228.6,2429.4 228.7,2430.5 228.7,2433.5 228.8,2436.6 228.9,2438.4 229.1,2441.4 229.2,2444.6 229.4,2447.7 229.5,2450.5 229.6,2452.8 229.8,2455.2 229.9,2458.8 230,2461.1 230.2,2463.8 230.3,2468 230.5,2469.9 230.6,2471.4 230.7,2475.2 231.2,2479 231.6,2481.8 232,2483.3 232.4,2487.3 232.8,2488.2 233.2,2492.7 233.6,2494.5 234,2496.4 234.3,2500.6 234.7,2502.8 235,2506.1 235.4,2507.3 235.7,2510.7 236.1,2514 236.4,2514.8 236.8,2517.6 237.1,2521 237.5,2523.5 238.1,2525.5 238.6,2528.1 239.2,2530.7 239.7,2534.2 240.3,2537.6 240.8,2540 241.4,2542.8 241.9,2545.8 242.5,2547.3 243,2550.2 243.6,2554 244.1,2555.9 244.7,2558.3 245.2,2562.2 245.8,2564 246.3,2568 246.9,2571.4 247.4,2573.2 248,2574.9 248.5,2578 249.1,2581.5 250.1,2585.1 251,2588.6 252,2591.1 252.1,2593.3 252.3,2596.8 252.5,2598.7 252.6,2602.7 252.8,2606 253,2608.3 253.5,2611 254,2614.3 254.6,2615.8 255.1,2619.4 255.6,2621.6 256.2,2624.4 256.4,2627.3 256.7,2628.8 257,2632.3 257.2,2635.4 257.5,2637.2 257.8,2640.5 258.1,2643.3 258.3,2644.8 258.6,2648.4 258.9,2652.2 259.1,2654.2 259.4,2656.6 261,2659.8 262.6,2663 264.2,2660.6 265.8,2656.6 266.4,2654.3 266.9,2651.2 267.4,2648.3 268,2646.7 268.5,2643.3 269.1,2640.5 272.3,2637.3 273.9,2640.5 275.5,2643.7 277.1,2646.6 278.7,2650.1 281.1,2652.6 283.5,2656.6 283.8,2658.6 284.1,2662.2 284.3,2664.7 284.6,2667.9 284.9,2669.9 285.1,2672.4 285.4,2675.5 285.7,2677.6 286,2681.6 286.2,2683.6 286.5,2685.8 286.8,2688.8 287.6,2692 288.4,2695.6 289.2,2698.9 290,2701.7 290.8,2698.7 291.6,2695.7 292.4,2692.4 293.2,2688.8 296.4,2685.6 299.6,2680.7 302.9,2675.9 307.7,2672.7 308.8,2669.2 309.8,2666.1 310.9,2663 312.5,2659.7 314.1,2656.6 314.9,2658.8 315.7,2663.2 316.5,2666.4 317.3,2669.5 318.1,2672.9 319,2674.8 319.8,2678.8 320.6,2680.7 323.8,2679.1 327,2675.9 327.8,2679.6 328.6,2682.5 329.4,2685.1 330.2,2688.8 331,2692.2 331.8,2694.7 332.6,2697.4 333.4,2700.1 336.7,2701.4 339.9,2703.3 343.1,2703 346.3,2703.3 349.5,2703.8 352.8,2704.9 356,2706.5 359.2,2704.4 362.4,2701.7 365.6,2698.4 368.9,2700.1 370.5,2703.2 372.1,2706.5 374.8,2708.2 377.4,2709.8 380.1,2711.3 382.8,2713.1 385.5,2714.4 388.2,2716.2 404.3,2719.4 420.4,2725 1855,2725" fill="none" stroke="#c8c040" stroke-width="4.8" stroke-linejoin="round" stroke-linecap="butt"/>
<polyline points="202.7,2378.6 205.9,2378.4 209.2,2380.7 212.4,2380.6 215.8,2383.7 219.1,2386.4 219.6,2388.6 220.1,2392.8 220.6,2395.3 221.1,2398 221.4,2401.4 221.6,2403.7 221.9,2406.7 222.2,2409.6 222.5,2411.4 222.7,2413.6 223,2417.3 223.6,2421.2 224.2,2422.6 224.7,2426.7 225.3,2430.7 225.9,2432.7 226.3,2435.5 226.7,2438.4 227.1,2441.7 227.5,2444.4 227.8,2448.2 228.3,2451.6 228.8,2453.5 229.3,2455.9 229.8,2459.8 230.2,2463.1 230.5,2465.4 230.9,2468.3 231.3,2471.1 231.7,2475.2 232.2,2478.9 232.7,2480.8 233.2,2484.1 233.6,2486.8 234,2489.9 234.4,2493.8 234.8,2495.1 235.2,2499.5 235.6,2502.3 236.1,2505.9 236.5,2507.6 237,2510.8 237.5,2513.5 238,2516.4 238.5,2520.6 238.9,2522 239.4,2525.5 239.9,2528.9 240.4,2530.2 240.9,2534.8 241.4,2536.1 241.8,2540.6 242.3,2541.9 242.8,2545.1 243.3,2548.6 243.8,2551 244.3,2553.9 244.7,2557.9 245.2,2560.2 245.7,2562.1 246.2,2565.3 246.7,2568.7 247.2,2571.8 247.9,2575.4 248.7,2578.3 249.5,2581 250.2,2584.9 251,2587.3 254.9,2591.1 255.3,2595.2 255.7,2598.2 256.2,2600.2 257.2,2604 258.3,2606.5 259.4,2608.3 260.5,2612 261.5,2614.1 262.6,2616.3 265.8,2621.2 269.1,2624.4 272.3,2629.2 273.9,2632.9 275.5,2635.7 278.7,2640.5 279.8,2643.4 280.9,2645.6 281.9,2648.5 283,2652 284.1,2653.6 285.1,2656.6 286.2,2660.2 287.3,2661.8 288.4,2664.6 291.6,2669.5 294.8,2672.7 298,2675.9 301.2,2671.1 304.5,2672.7 307.7,2675.9 310.9,2672.7 314.1,2675.9 315.2,2678.2 316.3,2683 317.3,2685.6 320.6,2688.8 322.2,2685.5 323.8,2682.3 327,2685.6 330.2,2688.8 331,2691.3 331.8,2695.6 332.6,2698.8 333.4,2701.7 336.7,2702.8 339.9,2703.3 342.6,2702.7 345.2,2701.9 347.9,2701.7 350.6,2701.9 353.3,2702.8 356,2703.3 359.2,2702.6 362.4,2701.7 365.6,2700.1 368.9,2701.7 372.1,2704.9 374.8,2707.1 377.4,2709 380.1,2711.3 382.8,2712.2 385.5,2713.7 388.2,2714.5 396.2,2717.8 404.3,2725 412.3,2719.4 417.2,2717 423.6,2718.6 428.4,2717.8 436.5,2719.4 445,2720.2 450.2,2725 458,2725 477.3,2725 500.5,2725 1855,2725" fill="none" stroke="#3a7ec8" stroke-width="4.8" stroke-linejoin="round" stroke-linecap="butt"/>
<polyline points="202.7,2556.4 205.4,2556.1 208.1,2555.4 210.8,2556.5 213.5,2555.6 216.2,2556.4 220.1,2560.2 221.1,2563.1 222,2565.7 223,2569.4 224,2571.8 224.3,2573.8 224.5,2578.4 224.8,2579.2 225.1,2581.9 225.4,2586 225.6,2589.4 225.9,2591.1 226.3,2594.7 226.7,2597.4 227.2,2598.6 227.6,2601.5 228,2604.5 228.4,2607.1 228.8,2610.5 228.8,2607.1 228.8,2604.8 228.8,2602.4 228.8,2599.6 228.8,2598.1 228.8,2595.5 228.8,2592.2 229.6,2594.1 230.4,2597.6 231.2,2600.8 232,2601.9 232.8,2606.6 233.6,2608.3 234.2,2611.1 234.7,2613.5 235.2,2616.1 235.8,2619.9 236.3,2621.8 236.9,2624.4 237.4,2627.5 237.9,2631.8 238.5,2634.1 241.7,2638.9 242.8,2635 243.8,2632.4 244.9,2629.2 246.5,2627.6 247.3,2631.8 248.1,2634.8 248.9,2637.9 249.7,2640.5 250.8,2644.5 251.9,2646.2 253,2650.1 254,2647.3 255.1,2643.7 256.2,2640.5 257.2,2638.4 258.3,2635.1 259.4,2630.8 260.5,2633.8 261.5,2637.9 262.6,2640.5 263.7,2643.4 264.8,2646.7 265.8,2650.1 268.2,2653.9 270.7,2656.6 272.3,2660.1 273.9,2662.6 275.5,2664.6 276.6,2666.6 277.6,2669 278.7,2672.7 279.8,2676.3 280.9,2678.1 281.9,2680.7 283,2683.6 284.1,2686.4 285.1,2688.8 288.4,2691 291.6,2692 296.4,2696.8 301.2,2701.7 304.5,2705.1 307.7,2708.1 310.9,2712.9 314.1,2715.4 317.3,2717.8 323.8,2719.4 339.9,2725 356,2725 1855,2725" fill="none" stroke="#f50acb" stroke-width="4.8" stroke-linejoin="round" stroke-linecap="butt"/>
<polyline points="203,2679.1 205.9,2678.8 208.8,2679.2 211.7,2678.7 214.6,2678.5 217.5,2678.3 219.1,2676.2 220.8,2672.7 221.6,2674.8 222.4,2679 223.2,2680.7 226.4,2685.6 227.6,2682.4 228.8,2679.1 232,2682.3 236.9,2685.6 240.1,2688.8 241.1,2690.9 242.2,2694.5 243.3,2696.8 244.4,2699.2 245.4,2702.6 246.5,2704.9 248.1,2707.7 249.7,2710.1 251.3,2712.9 253.8,2716.3 256.2,2719.4 262.6,2720.2 270.7,2719.4 278.7,2718.6 285.1,2725 307.7,2725 339.9,2725 1855,2725" fill="none" stroke="#20f0d0" stroke-width="4.8" stroke-linejoin="round" stroke-linecap="butt"/>
<polyline points="203,2712.1 205.7,2712 208.4,2712.3 211.1,2712.7 213.8,2712.8 216.5,2713 219.1,2712.9 224,2713.7 227.2,2716.2 228.8,2721 232,2723.4 243.3,2724.2 275.5,2725 1855,2725" fill="none" stroke="#f7991a" stroke-width="4.8" stroke-linejoin="round" stroke-linecap="butt"/>
<polyline points="203.1,2335 206.2,2336.3 209.3,2337.9 212.4,2338.9 215.3,2340.6 218.2,2340.8 218.6,2337.5 219,2334.6 219.3,2333.1 219.7,2329.6 220.1,2327.3 222,2329.2 222.1,2332.3 222.1,2335.3 222.2,2336.3 222.2,2339.6 222.3,2341.9 222.4,2344.9 222.4,2348.9 222.5,2349.9 222.5,2353 222.6,2355.3 222.6,2357.8 222.7,2360.4 222.7,2363 222.8,2367.3 222.8,2369.7 222.9,2371.6 222.9,2375.2 223,2378.3 223,2380 223.3,2382.2 223.7,2385.9 224,2388.3 228.8,2390.2 229.8,2393.3 230.7,2398 231.1,2400.4 231.5,2403.5 231.8,2406.6 232.2,2409.8 232.5,2412.2 232.9,2415 233.3,2418.9 233.6,2421.1 233.8,2423.5 233.9,2426.9 234.1,2429.7 234.2,2432.7 234.4,2433.9 234.5,2436.6 234.7,2440.4 234.8,2442.1 235,2445.2 235.1,2447.5 235.3,2451.5 235.4,2453.2 235.6,2455.9 236.1,2458 236.7,2462.3 237.2,2463.1 237.8,2466.5 238.3,2470 238.9,2472.1 239.4,2475.2 240,2478.6 240.5,2481.8 241.1,2483.6 241.6,2486.2 242.2,2490 242.7,2492.1 243.3,2494.5 243.6,2497.6 244,2499.9 244.3,2503.1 244.7,2505.9 245.1,2506.8 245.4,2509.7 245.8,2511.9 246.1,2515 246.5,2517.8 246.8,2520.6 247.2,2523.5 247.5,2525.9 247.9,2528.9 248.2,2531.7 248.6,2533 248.9,2536 249.3,2540.1 249.6,2543.1 250,2543.7 250.3,2546.8 250.7,2550 251,2552.5 251.6,2555.2 252.1,2557.2 252.7,2561.6 253.2,2563.8 253.8,2566.1 254.3,2568.6 254.9,2571.8 255.4,2573.7 256,2576.7 256.5,2581.1 257.1,2583.8 257.6,2585.2 258.2,2588.5 258.7,2591.1 259.4,2592.2 260.2,2594.3 261,2599.5 261.8,2601.2 262.6,2605.1 263.7,2608.2 264.8,2611.2 265.8,2613.1 269.1,2618 272.3,2621.2 273.9,2624.4 275.5,2627.6 277.1,2631.8 278.7,2634.1 280.3,2636.6 281.9,2640.5 282.7,2642.8 283.5,2645.8 284.3,2649.2 285.1,2653.4 285.6,2655.5 286,2658.8 286.4,2661 286.8,2664.6 287.3,2666.3 287.8,2669.1 288.4,2672.7 288.8,2676.7 289.2,2679.9 289.6,2683.2 290,2685.6 291.6,2680.7 292.4,2678.3 293.2,2675 294,2670.8 294.8,2667.9 298,2669.5 301.2,2672.7 304.5,2675.9 307.7,2680.7 308.8,2683.9 309.8,2686.3 310.9,2688.8 312,2691.1 313.1,2694.8 314.1,2696.8 317.3,2700.1 320.6,2701.7 323.8,2700.1 327,2698.4 330.2,2701.7 333.4,2704.9 336.7,2706.7 339.9,2708.1 343.1,2709.7 346.3,2711.3 349.5,2712.7 352.8,2714.5 359.2,2717.8 365.6,2719.4 372.1,2725 388.2,2725 1855,2725" fill="none" stroke="#0a7fff" stroke-width="4.8" stroke-linejoin="round" stroke-linecap="butt"/>
<polyline points="203.8,1610.9 207,1612.3 210.1,1614.7 212.6,1618.5 215.2,1621 216.4,1623.4 217.7,1628.4 218.9,1631.1 219,1627.9 219.1,1626 219.2,1624 219.3,1620.1 219.4,1618.4 219.5,1616.4 219.6,1613.1 219.7,1609.8 219.8,1606.8 219.9,1606 220,1601.9 220.1,1600.5 220.2,1597.1 221.5,1595.8 221.5,1598.6 221.5,1600.3 221.5,1603.5 221.5,1606.1 221.5,1609.3 221.5,1611.1 221.5,1614.4 221.5,1617.1 221.5,1619.1 221.5,1623 221.5,1624.9 221.5,1628.3 221.5,1631.1 221.5,1633.3 221.5,1635.8 221.5,1638.6 221.5,1640 221.5,1643.9 221.5,1647 221.5,1649.1 221.5,1651.7 221.5,1654.7 221.5,1656.9 221.5,1660.3 221.5,1662.8 221.5,1663.6 221.5,1667.8 221.5,1670 221.5,1672.9 221.5,1674.9 221.5,1678.8 221.5,1679.9 221.5,1683.2 221.5,1686.1 221.5,1688.3 221.5,1690.1 221.5,1692.7 221.5,1696.5 221.5,1699.6 221.5,1701.7 221.6,1703.5 221.7,1707.4 221.9,1708.7 222,1712.2 222.1,1714.4 222.3,1716.6 222.4,1720.9 222.5,1722.6 222.6,1724.1 222.8,1727.7 222.9,1729.6 223,1733.5 223.2,1736.2 223.3,1738.1 223.4,1740.5 223.6,1742.5 223.7,1747.1 223.8,1748 223.9,1751.2 224.1,1754.4 224.2,1755.6 224.3,1758.9 224.5,1762.4 224.6,1764.9 224.7,1767.3 224.9,1768.6 225,1771.7 225.1,1774 225.3,1777.3 225.4,1779.9 225.5,1783.3 225.7,1785.3 225.8,1788.8 225.9,1791.5 226,1793.1 226.2,1795.8 226.3,1799.5 226.4,1800.5 226.6,1803.2 226.7,1805.8 226.8,1809.5 227,1812.5 227.1,1814.1 227.2,1816.1 227.4,1819.4 227.5,1821.5 227.6,1825.7 227.8,1826.9 227.9,1829.6 228,1832.8 228.2,1835.6 228.3,1838.3 228.4,1841.6 228.6,1843.1 228.7,1846.9 228.8,1849.7 229,1852.1 229.1,1854.2 229.2,1857.6 229.4,1858.5 229.5,1862.1 229.6,1865.2 229.8,1867.7 229.9,1869.6 230,1873.3 230.2,1876 230.3,1878.2 230.4,1881.2 230.6,1883.9 230.7,1886.5 230.8,1888.4 231,1890.6 231.1,1895.2 231.2,1896 231.4,1898.6 231.5,1903 231.6,1904.6 231.8,1906.4 231.9,1909.4 232,1912.1 232.2,1914.5 232.3,1918.1 232.4,1920.9 232.5,1923.2 232.7,1926 232.8,1927.5 232.9,1932.3 233.1,1933.2 233.2,1937.4 233.3,1939.1 233.5,1942.4 233.6,1944.6 233.7,1947.7 233.9,1950.4 234,1952.3 234.1,1954.4 234.3,1956.8 234.4,1961.4 234.5,1963.2 234.7,1965.6 234.8,1968.7 234.9,1970.8 235.1,1973.3 235.2,1977 235.3,1979 235.5,1981.3 235.6,1983.8 235.7,1987.9 235.9,1990.4 236,1992.5 236.1,1995.8 236.3,1997.7 236.4,1999.9 236.5,2002.8 236.7,2006.5 236.8,2007.1 236.9,2010 237.1,2014 237.2,2015.8 237.3,2019.1 237.5,2021.1 237.6,2023.6 237.7,2026.2 237.9,2029.2 238,2032.5 238.1,2035.4 238.3,2037.8 238.4,2041 238.5,2042.8 238.7,2045.5 238.8,2047 238.9,2050.6 239.1,2054.2 239.2,2055.3 239.3,2058 239.4,2062 239.6,2063.7 239.7,2066.1 239.8,2068.4 240,2072.5 240.1,2073.6 240.2,2076.7 240.4,2079.8 240.7,2082.3 241.1,2085 241.5,2089.3 241.8,2091.7 242.2,2094.1 242.5,2098 242.9,2100 242.9,2103 243,2105.4 243,2108.2 243,2111.8 243,2113.3 243.1,2116.9 243.1,2118 243.1,2122 243.2,2124.5 243.2,2127.5 243.2,2129.3 243.2,2132.8 243.3,2136 243.3,2138 243.5,2141 243.8,2142.5 244,2146.8 244.2,2149.5 244.5,2151.3 244.7,2153.9 244.9,2156.3 245.1,2160.1 245.4,2161.4 245.6,2165 245.6,2167.4 245.7,2170.6 245.7,2173.4 245.7,2175.4 245.8,2179.3 245.8,2181.6 245.8,2182.6 245.9,2187.2 245.9,2188.5 245.9,2190.9 245.9,2194 246,2197.1 246,2198.4 246,2202 246.1,2204.8 246.1,2206.3 246.1,2210.2 246.2,2213.2 246.2,2215.2 246.4,2217.6 246.6,2220 246.8,2222.7 247,2226.2 247.2,2228.6 247.4,2232.4 247.6,2233.6 247.8,2237.4 248.1,2239 248.3,2243.3 248.5,2246.6 248.7,2248 248.9,2251.5 249.1,2253.9 249.2,2256.1 249.3,2258.3 249.5,2261.1 249.6,2264.3 249.7,2266.7 249.8,2269.3 249.9,2271.5 250.1,2275.8 250.2,2278 250.3,2280 250.4,2283.2 250.5,2285.5 250.7,2288.2 250.8,2290.9 250.9,2294.4 251,2296.4 251.2,2298 251.3,2301.1 251.5,2304.8 251.6,2307.1 251.8,2308.7 251.9,2313.3 252.1,2315.4 252.2,2318.5 252.4,2320.5 252.5,2323.8 252.7,2326.8 252.8,2328 253,2331.1 253.2,2333.1 253.4,2337.4 253.6,2340.4 253.8,2342.7 254,2345.6 254.2,2348.5 254.5,2350.3 254.7,2353.9 254.9,2356.3 255.1,2358.2 255.3,2362 255.5,2363.3 255.7,2367.3 256,2368.9 256.2,2370.8 256.4,2374.1 256.6,2376.9 256.8,2380 256.9,2382.1 257,2386.2 257.1,2387.1 257.2,2390.5 257.3,2394.1 257.4,2396.5 257.5,2399.8 257.6,2401.5 257.6,2404 257.7,2407.5 257.8,2410.5 257.9,2411.7 258,2415.3 258.1,2417.6 258.2,2419.6 258.3,2422.7 258.4,2424.7 258.5,2428.8 258.6,2431.1 258.7,2433.1 258.7,2436.6 259.2,2440.4 259.6,2442.1 260,2445.3 260.4,2446.7 260.8,2451.1 261.2,2452.3 261.6,2455.5 262.1,2458.4 262.5,2461.1 262.9,2464.7 263.3,2466.3 263.7,2470.3 264.1,2472.3 264.5,2475.2 265.1,2477.7 265.6,2481.1 266.2,2483.1 266.8,2486.8 267.3,2488 267.9,2491 268.4,2494.5 269,2498.2 269.5,2499.9 270.1,2503.1 270.6,2505.1 271.2,2507.3 271.7,2512.1 272.3,2513.9 272.8,2515.9 273.4,2520.4 273.9,2521.7 274.5,2524.2 275,2528.7 275.6,2529.9 276.1,2533.2 276.7,2535.9 277.2,2538.3 277.8,2541.2 278.3,2544.3 278.9,2546.5 279.4,2549.7 280,2552.5 280.6,2555 281.1,2558.7 281.7,2560.9 282.2,2564.6 282.8,2566.1 283.3,2569.6 283.9,2571.8 284.1,2574.9 284.4,2578.4 284.7,2580.3 285,2583 285.2,2584.7 285.5,2587.6 285.8,2591.1 286,2595.1 286.3,2596.3 286.5,2599.1 286.8,2603.4 287,2605.3 287.2,2607.8 287.5,2611.4 287.7,2614.3 289.7,2617.3 291.6,2621.2 294.8,2624.4 298,2621.2 299.1,2619.2 300.2,2616.9 301.2,2613.1 304.5,2614.7 305.5,2617 306.6,2620.2 307.7,2624.4 310.9,2629.2 314.1,2634.1 315.7,2636.5 317.3,2640.5 318.4,2642.9 319.5,2646.5 320.6,2650.1 322.2,2653.8 323.8,2656.6 324.6,2660.7 325.4,2663.2 326.2,2667.1 327,2669.5 330.2,2664.6 333.4,2663 334.5,2666.4 335.6,2669.1 336.7,2672.7 338.3,2676.8 339.9,2679.1 341.5,2682.9 343.1,2685.6 346.3,2688.8 347.4,2691.4 348.5,2695.1 349.5,2698.4 352.8,2701.7 356,2704.9 359.2,2708.1 362.4,2712.9 365.6,2717 372.1,2717.8 380.1,2717.8 388.2,2717 393,2718.6 397.8,2716.2 402.7,2717 407.5,2719.4 420.4,2725 445,2725 1855,2725" fill="none" stroke="#ccff00" stroke-width="4.8" stroke-linejoin="round" stroke-linecap="butt"/>
<polyline points="203.8,1716.8 207,1718.2 210.1,1719.3 212.6,1722.1 215.2,1726.9 216.1,1731.1 217.1,1732.7 218,1736.7 218.9,1739.5 219.1,1736 219.2,1733.7 219.3,1731.7 219.4,1729.4 219.5,1725.3 219.6,1722.3 219.8,1719.3 219.9,1717.5 220,1714.3 220.1,1711 220.2,1709.2 221.5,1708 221.5,1709.9 221.5,1713.6 221.5,1716.6 221.5,1719.4 221.5,1722.3 221.5,1724 221.5,1726.5 221.5,1730.5 221.5,1733 221.5,1735.8 221.5,1737.3 221.5,1740.2 221.5,1744.4 221.5,1745.8 221.5,1749.1 221.5,1752.1 221.5,1755.1 221.6,1757.5 221.6,1760.4 221.6,1761.4 221.7,1765.2 221.7,1767.3 221.8,1770.8 221.8,1772.4 221.9,1776.4 221.9,1777.8 221.9,1780.2 222,1783.5 222,1785.2 222.1,1789.3 222.1,1790.2 222.2,1794 222.2,1796.9 222.3,1798.6 222.3,1801.1 222.3,1804.8 222.4,1807 222.4,1808.8 222.5,1813 222.5,1814.5 222.6,1817.1 222.6,1819.6 222.6,1823.2 222.7,1825.1 222.7,1827.7 222.8,1830.9 222.9,1832.4 223,1834.7 223.1,1839.2 223.2,1840.5 223.3,1842.9 223.4,1845.8 223.5,1848.5 223.6,1851.5 223.7,1855.2 223.8,1857.1 223.9,1858.9 224,1861.4 224.1,1865.9 224.2,1866.7 224.3,1870.2 224.4,1872.2 224.5,1874.8 224.6,1877.9 224.7,1880.7 224.8,1884.3 224.9,1885.5 225,1888.8 225.1,1890.8 225.2,1894.9 225.3,1897 225.4,1899.8 225.5,1902.8 225.6,1904.3 225.7,1907.3 225.8,1909.7 225.9,1913.1 226,1916.3 226.1,1917.1 226.2,1920.2 226.3,1922.7 226.4,1925.8 226.5,1928.6 226.6,1930.3 226.7,1932.9 226.8,1936.1 226.9,1939.5 227,1942 227.1,1943.9 227.2,1946.2 227.3,1950.3 227.4,1951.7 227.5,1955.6 227.6,1957.9 227.7,1961.4 227.8,1962 227.9,1964.9 228,1967.3 228.1,1971.8 228.2,1973.6 228.3,1975.5 228.4,1978.1 228.5,1981.5 228.6,1984.5 228.7,1986.2 228.8,1989.7 228.9,1991.6 229,1995.5 229.1,1997.9 229.2,1999.8 229.3,2003 229.4,2006.1 229.5,2007.5 229.6,2009.9 229.7,2013.6 229.8,2016.6 229.9,2018.6 230,2021.5 230.1,2023.2 230.2,2026.6 230.3,2029.4 230.4,2031.5 230.6,2034.7 230.7,2038.3 230.9,2039.3 231,2042.5 231.1,2045.5 231.3,2048.2 231.4,2049.6 231.6,2053.8 231.7,2055.3 231.8,2058.8 232,2060 232.1,2063.1 232.3,2066.9 232.4,2069.1 232.5,2072.3 232.7,2074.4 232.8,2077 233,2079.6 233.1,2080.9 233.2,2084.8 233.4,2087.9 233.5,2090.3 233.7,2092.9 233.8,2095.7 233.9,2096.4 234.1,2100 234.1,2103.4 234.1,2104.4 234.1,2107.6 234.2,2110 234.2,2114 234.2,2115.3 234.2,2118.6 234.3,2121 234.3,2124.4 234.3,2126.4 234.3,2127.8 234.4,2130.4 234.4,2133.7 234.4,2136.3 234.4,2138.9 234.5,2140.7 234.5,2144.1 234.5,2146 234.5,2148.8 234.6,2152.4 234.6,2154.1 234.6,2157.3 234.9,2159.6 235.3,2163.4 235.6,2164.6 236,2168.1 236.3,2171.6 236.7,2173.3 237,2176.2 237.4,2180.1 237.7,2181.1 238.1,2184.4 238.4,2188.2 238.7,2191.3 239.1,2193.8 239.4,2195.9 241.4,2200.8 243.3,2203.6 243.4,2201.3 243.4,2198.9 243.5,2195.8 243.6,2193.1 243.7,2189.6 243.7,2187.1 243.8,2184.1 243.9,2181.1 244,2178.7 244,2176.1 244.1,2173.8 244.2,2171.5 244.3,2168.9 246.2,2166.9 246.2,2170 246.3,2171.4 246.4,2174.8 246.4,2177.1 246.5,2180.5 246.5,2183.2 246.6,2185.1 246.6,2187.7 246.7,2191.2 246.7,2193.1 246.8,2196.2 246.8,2199.8 246.9,2202.6 246.9,2205.3 247,2207.8 247.1,2209.9 247.1,2211.9 247.2,2215.2 247.3,2218.2 247.4,2220 247.5,2224.1 247.6,2224.9 247.7,2228.4 247.8,2230.3 247.9,2234.4 248,2236.1 248.1,2240.2 248.2,2241.4 248.3,2244.3 248.4,2246.6 248.5,2250.1 248.6,2252.5 248.7,2255.3 248.8,2258.9 248.9,2259.6 249,2263.8 249.1,2265 249.2,2269.5 249.3,2271.8 249.4,2273.4 249.5,2275.5 249.6,2278.2 249.7,2281.3 249.8,2285.3 249.9,2287.8 250,2289.5 250.1,2292.5 252.5,2295.4 254.9,2298.3 255.3,2295.2 255.7,2293.5 256.2,2289.1 256.6,2288 257,2283.9 257.5,2281.5 257.9,2278.1 258.3,2277 258.7,2273.2 260.7,2275.1 260.8,2278.4 261,2281.4 261.1,2284 261.2,2285.2 261.4,2288.2 261.5,2290.3 261.6,2294.1 261.8,2295.5 261.9,2299.7 262.1,2300.3 262.2,2304.5 262.3,2307.2 262.5,2308.7 262.6,2311.8 262.8,2315.5 263,2316.3 263.3,2318.8 263.5,2322.9 263.7,2324.7 263.9,2328.2 264.1,2329.6 264.3,2333.3 264.5,2335.9 264.8,2339.7 265,2340.6 265.2,2343.2 265.4,2347.4 265.6,2349.4 265.8,2352.6 266,2354.2 266.3,2358.2 266.5,2360.1 268.4,2362 268.6,2364.8 268.7,2367.5 268.9,2370.9 269.1,2373.2 269.2,2376.6 269.4,2380 269.4,2383.5 269.5,2384.5 269.5,2387.6 269.6,2389.6 269.6,2392.3 269.7,2395 269.7,2399.2 269.7,2400.9 269.8,2402.8 269.8,2407.4 269.9,2408.8 269.9,2411.7 270,2414.3 270,2417.6 270.1,2420.4 270.1,2422.8 270.2,2425.7 270.2,2428.1 270.2,2429.3 270.3,2431.7 270.3,2435.6 270.4,2438.3 270.4,2441.7 270.5,2444.2 270.5,2447 270.6,2449.4 270.6,2452.1 270.7,2453.8 270.7,2457.4 270.8,2458.2 270.8,2462 270.8,2465.2 270.9,2466.1 270.9,2468.6 271,2471.8 271,2475.5 271.1,2476.7 271.1,2480 271.2,2482.3 271.2,2485.7 271.3,2488.5 271.3,2490.7 271.7,2493.7 272,2496.9 272.4,2499.5 272.8,2502.6 273.1,2505.6 273.5,2509.1 273.8,2510.8 274.2,2513.9 274.8,2517.2 275.3,2520.1 275.9,2522.9 276.4,2524.1 277,2528.7 277.5,2529.9 278.1,2533.2 278.6,2536.5 279.2,2538 279.7,2541.9 280.3,2544.6 280.8,2547.6 281.4,2549.9 281.9,2552.5 282.7,2556.1 283.5,2559.5 284.2,2562.3 285,2565.2 285.8,2568 289.7,2571.8 290.1,2574.5 290.6,2578.7 291.1,2580.9 291.6,2584.1 291.8,2585.7 291.9,2588.5 292.1,2591.4 292.3,2594.3 292.5,2596.5 292.7,2600.4 292.8,2602.1 293,2604.9 293.2,2608.3 293.7,2610.6 294.3,2614.4 294.8,2616.3 295.1,2618.3 295.3,2622 295.6,2625 295.9,2627.3 296.1,2630.2 296.4,2632.4 298,2637.3 298.3,2640.2 298.5,2642.6 298.7,2646.3 298.9,2649.2 299.2,2650.9 299.4,2653.2 299.6,2656.6 301.2,2659.8 302.1,2661.9 302.9,2667 303.7,2669.6 304.5,2672.7 305,2674.9 305.5,2678 306.1,2679.9 306.6,2683.8 307.1,2686.4 307.7,2688.8 308.2,2690.8 308.8,2694 309.3,2697.1 309.8,2699.1 310.4,2702.6 310.9,2704.9 314.1,2701.7 315.2,2699.5 316.3,2696 317.3,2693.6 318.4,2696.8 319.5,2699.1 320.6,2701.7 323.8,2704.9 328.6,2704.9 330.2,2702 331.8,2698.4 335.1,2701.7 336.7,2705.3 338.3,2708.1 343.1,2709.7 347.9,2714.5 352.8,2719.4 364,2725 388.2,2725 1855,2725" fill="none" stroke="#c000ff" stroke-width="4.8" stroke-linejoin="round" stroke-linecap="butt"/>
<polyline points="202.7,2548.6 206.6,2549.3 210.5,2550.6 213.4,2552.9 216.2,2554.4 220.1,2558.3 221.4,2562 222.7,2564.5 224,2568 224.3,2570.1 224.7,2572.7 225.1,2576.2 225.4,2578.5 225.8,2581.6 226.2,2585.4 226.5,2588.2 226.9,2591.1 227.5,2595 228,2596.5 228.6,2599.5 229.2,2602.7 229.8,2606.6 229.8,2609.2 229.9,2611.4 229.9,2615.6 230,2617.9 230.1,2621.6 230.1,2622.8 230.2,2627.1 230.2,2628.5 230.3,2632.3 230.4,2635.2 230.4,2637.3 233.6,2640.5 236.9,2645.3 237.7,2647.7 238.5,2650.6 239.3,2652.7 240.1,2656.6 240.6,2659.6 241.1,2662 241.7,2664.9 242.2,2666.2 242.8,2668.9 243.3,2672.7 243.8,2675.9 244.4,2677.6 244.9,2680.7 248.1,2685.6 251.3,2687.2 251.9,2691.1 252.4,2693.8 253,2696.8 253.5,2699.2 254,2702.5 254.6,2705.1 255.1,2707.6 255.6,2710.5 256.2,2712.9 257.8,2716.3 259.4,2719.4 267.4,2720.2 275.5,2725 307.7,2725 1855,2725" fill="none" stroke="#ff40c0" stroke-width="4.8" stroke-linejoin="round" stroke-linecap="butt"/>
<polyline points="203,2705.7 205.7,2705.5 208.4,2705.4 211.1,2704.9 214.3,2702.8 217.5,2701.7 222.4,2703.3 227.2,2705.7 229.6,2703.2 232,2700.1 233.6,2702.9 235.2,2705.5 236.9,2708.1 241.7,2704.9 243.3,2702 244.9,2698.3 246.5,2695.2 248.1,2698.8 249.7,2701.7 253,2704.1 254.6,2700.6 256.2,2696.8 257.8,2693.1 259.4,2690.4 262.6,2695.2 265.8,2700.1 269.1,2701.7 270.7,2705.1 272.3,2708.1 275.5,2709.7 278.7,2712.9 281.9,2711.3 286.8,2709.7 291.6,2712.9 296.4,2716.2 301.2,2719.4 307.7,2725.4 317.3,2725.4 339.9,2725.4 372.1,2725.4 1855,2725.4" fill="none" stroke="#c03a3a" stroke-width="4.8" stroke-linejoin="round" stroke-linecap="butt"/>
<polyline points="203,2718.6 219.1,2720.2 227.2,2722.6 235.2,2724.2 243.3,2725 1855,2726.3" fill="none" stroke="#ffc040" stroke-width="5.0" stroke-linejoin="round" stroke-linecap="butt"/>
<polyline points="330,2723 1855,2723" fill="none" stroke="#eea88a" stroke-width="1.6" stroke-linejoin="round" stroke-linecap="butt"/>
<text x="1035" y="2877" font-size="63" text-anchor="middle">Time (s)</text>
<text transform="translate(73,2128.5) rotate(-90)" font-size="63" text-anchor="middle"><tspan font-style="italic">E</tspan>|<tspan font-style="italic">z</tspan>(<tspan font-style="italic">t</tspan>)|<tspan font-size="37" dy="-21">2</tspan></text>
<rect x="1232.8" y="26.6" width="626.4" height="433.2" fill="#fff" stroke="#000" stroke-width="4.2"/>
<line x1="1254.6" y1="76.3" x2="1319.3" y2="76.3" stroke="#3ebfc8" stroke-width="3.5"/>
<text x="1331.7" y="91.9" font-size="63"><tspan font-style="italic">z</tspan><tspan font-size="37" dx="1.5" dy="13">1</tspan><tspan dy="-13" dx="-2">(</tspan><tspan font-style="italic">t</tspan>)</text>
<line x1="1459.4" y1="76.3" x2="1522.9" y2="76.3" stroke="#bf40cc" stroke-width="3.5"/>
<text x="1535.3" y="91.9" font-size="63"><tspan font-style="italic">z</tspan><tspan font-size="37" dx="1.5" dy="13">2</tspan><tspan dy="-13" dx="-2">(</tspan><tspan font-style="italic">t</tspan>)</text>
<line x1="1660.9" y1="76.3" x2="1724.8" y2="76.3" stroke="#c8c040" stroke-width="3.5"/>
<text x="1737.2" y="91.9" font-size="63"><tspan font-style="italic">z</tspan><tspan font-size="37" dx="1.5" dy="13">3</tspan><tspan dy="-13" dx="-2">(</tspan><tspan font-style="italic">t</tspan>)</text>
<line x1="1254.6" y1="160.7" x2="1319.3" y2="160.7" stroke="#3a7ec8" stroke-width="3.5"/>
<text x="1331.7" y="176.3" font-size="63"><tspan font-style="italic">z</tspan><tspan font-size="37" dx="1.5" dy="13">4</tspan><tspan dy="-13" dx="-2">(</tspan><tspan font-style="italic">t</tspan>)</text>
<line x1="1459.4" y1="160.7" x2="1522.9" y2="160.7" stroke="#f50acb" stroke-width="3.5"/>
<text x="1535.3" y="176.3" font-size="63"><tspan font-style="italic">z</tspan><tspan font-size="37" dx="1.5" dy="13">5</tspan><tspan dy="-13" dx="-2">(</tspan><tspan font-style="italic">t</tspan>)</text>
<line x1="1660.9" y1="160.7" x2="1724.8" y2="160.7" stroke="#20f0d0" stroke-width="3.5"/>
<text x="1737.2" y="176.3" font-size="63"><tspan font-style="italic">z</tspan><tspan font-size="37" dx="1.5" dy="13">6</tspan><tspan dy="-13" dx="-2">(</tspan><tspan font-style="italic">t</tspan>)</text>
<line x1="1254.6" y1="244.9" x2="1319.3" y2="244.9" stroke="#f7991a" stroke-width="3.5"/>
<text x="1331.7" y="260.5" font-size="63"><tspan font-style="italic">z</tspan><tspan font-size="37" dx="1.5" dy="13">7</tspan><tspan dy="-13" dx="-2">(</tspan><tspan font-style="italic">t</tspan>)</text>
<line x1="1459.4" y1="244.9" x2="1522.9" y2="244.9" stroke="#0a7fff" stroke-width="5"/>
<text x="1535.3" y="260.5" font-size="63"><tspan font-style="italic">z</tspan><tspan font-size="37" dx="1.5" dy="13">8</tspan><tspan dy="-13" dx="-2">(</tspan><tspan font-style="italic">t</tspan>)</text>
<line x1="1660.9" y1="244.9" x2="1724.8" y2="244.9" stroke="#ccff00" stroke-width="3.5"/>
<text x="1737.2" y="260.5" font-size="63"><tspan font-style="italic">z</tspan><tspan font-size="37" dx="1.5" dy="13">9</tspan><tspan dy="-13" dx="-2">(</tspan><tspan font-style="italic">t</tspan>)</text>
<line x1="1254.6" y1="329" x2="1319.3" y2="329" stroke="#c000ff" stroke-width="5"/>
<text x="1331.7" y="344.6" font-size="63"><tspan font-style="italic">z</tspan><tspan font-size="37" dx="1.5" dy="13">10</tspan><tspan dy="-13" dx="-2">(</tspan><tspan font-style="italic">t</tspan>)</text>
<line x1="1478" y1="329" x2="1541.4" y2="329" stroke="#ff40c0" stroke-width="3.5"/>
<text x="1553.8" y="344.6" font-size="63"><tspan font-style="italic">z</tspan><tspan font-size="37" dx="1.5" dy="13">11</tspan><tspan dy="-13" dx="-2">(</tspan><tspan font-style="italic">t</tspan>)</text>
<line x1="1254.6" y1="413.1" x2="1319.3" y2="413.1" stroke="#c03a3a" stroke-width="3.5"/>
<text x="1331.7" y="428.7" font-size="63"><tspan font-style="italic">z</tspan><tspan font-size="37" dx="1.5" dy="13">12</tspan><tspan dy="-13" dx="-2">(</tspan><tspan font-style="italic">t</tspan>)</text>
<line x1="1478" y1="413.1" x2="1541.4" y2="413.1" stroke="#ffc040" stroke-width="3.5"/>
<text x="1553.8" y="428.7" font-size="63"><tspan font-style="italic">z</tspan><tspan font-size="37" dx="1.5" dy="13">13</tspan><tspan dy="-13" dx="-2">(</tspan><tspan font-style="italic">t</tspan>)</text>
<rect x="988.7" y="1530" width="874.7" height="519.2" fill="#fff" stroke="#000" stroke-width="4.2"/>
<line x1="1013.5" y1="1572.8" x2="1077.3" y2="1572.8" stroke="#3ebfc8" stroke-width="3.6"/>
<text x="1091.6" y="1594.9" font-size="63"><tspan font-style="italic">E</tspan>|<tspan font-style="italic" dx="-2.4">z</tspan><tspan font-size="37" dx="1.8" dy="12">1</tspan><tspan dy="-12">|</tspan><tspan font-size="37" dx="-1.7" dy="-21">2</tspan><tspan dy="21">(</tspan><tspan font-style="italic">t</tspan>)</text>
<line x1="1298.8" y1="1572.8" x2="1362.2" y2="1572.8" stroke="#bf40cc" stroke-width="3.6"/>
<text x="1376.5" y="1594.9" font-size="63"><tspan font-style="italic">E</tspan>|<tspan font-style="italic" dx="-2.4">z</tspan><tspan font-size="37" dx="1.8" dy="12">2</tspan><tspan dy="-12">|</tspan><tspan font-size="37" dx="-1.7" dy="-21">2</tspan><tspan dy="21">(</tspan><tspan font-style="italic">t</tspan>)</text>
<line x1="1583" y1="1572.8" x2="1646.5" y2="1572.8" stroke="#c8c040" stroke-width="3.6"/>
<text x="1660.8" y="1594.9" font-size="63"><tspan font-style="italic">E</tspan>|<tspan font-style="italic" dx="-2.4">z</tspan><tspan font-size="37" dx="1.8" dy="12">3</tspan><tspan dy="-12">|</tspan><tspan font-size="37" dx="-1.7" dy="-21">2</tspan><tspan dy="21">(</tspan><tspan font-style="italic">t</tspan>)</text>
<line x1="1013.5" y1="1677" x2="1077.3" y2="1677" stroke="#3a7ec8" stroke-width="3.6"/>
<text x="1091.6" y="1699.1" font-size="63"><tspan font-style="italic">E</tspan>|<tspan font-style="italic" dx="-2.4">z</tspan><tspan font-size="37" dx="1.8" dy="12">4</tspan><tspan dy="-12">|</tspan><tspan font-size="37" dx="-1.7" dy="-21">2</tspan><tspan dy="21">(</tspan><tspan font-style="italic">t</tspan>)</text>
<line x1="1298.8" y1="1677" x2="1362.2" y2="1677" stroke="#f50acb" stroke-width="3.6"/>
<text x="1376.5" y="1699.1" font-size="63"><tspan font-style="italic">E</tspan>|<tspan font-style="italic" dx="-2.4">z</tspan><tspan font-size="37" dx="1.8" dy="12">5</tspan><tspan dy="-12">|</tspan><tspan font-size="37" dx="-1.7" dy="-21">2</tspan><tspan dy="21">(</tspan><tspan font-style="italic">t</tspan>)</text>
<line x1="1583" y1="1677" x2="1646.5" y2="1677" stroke="#20f0d0" stroke-width="3.6"/>
<text x="1660.8" y="1699.1" font-size="63"><tspan font-style="italic">E</tspan>|<tspan font-style="italic" dx="-2.4">z</tspan><tspan font-size="37" dx="1.8" dy="12">6</tspan><tspan dy="-12">|</tspan><tspan font-size="37" dx="-1.7" dy="-21">2</tspan><tspan dy="21">(</tspan><tspan font-style="italic">t</tspan>)</text>
<line x1="1013.5" y1="1781.2" x2="1077.3" y2="1781.2" stroke="#f7991a" stroke-width="3.6"/>
<text x="1091.6" y="1803.3" font-size="63"><tspan font-style="italic">E</tspan>|<tspan font-style="italic" dx="-2.4">z</tspan><tspan font-size="37" dx="1.8" dy="12">7</tspan><tspan dy="-12">|</tspan><tspan font-size="37" dx="-1.7" dy="-21">2</tspan><tspan dy="21">(</tspan><tspan font-style="italic">t</tspan>)</text>
<line x1="1298.8" y1="1781.2" x2="1362.2" y2="1781.2" stroke="#0a7fff" stroke-width="4.2"/>
<text x="1376.5" y="1803.3" font-size="63"><tspan font-style="italic">E</tspan>|<tspan font-style="italic" dx="-2.4">z</tspan><tspan font-size="37" dx="1.8" dy="12">8</tspan><tspan dy="-12">|</tspan><tspan font-size="37" dx="-1.7" dy="-21">2</tspan><tspan dy="21">(</tspan><tspan font-style="italic">t</tspan>)</text>
<line x1="1583" y1="1781.2" x2="1646.5" y2="1781.2" stroke="#ccff00" stroke-width="3.6"/>
<text x="1660.8" y="1803.3" font-size="63"><tspan font-style="italic">E</tspan>|<tspan font-style="italic" dx="-2.4">z</tspan><tspan font-size="37" dx="1.8" dy="12">9</tspan><tspan dy="-12">|</tspan><tspan font-size="37" dx="-1.7" dy="-21">2</tspan><tspan dy="21">(</tspan><tspan font-style="italic">t</tspan>)</text>
<line x1="1013.5" y1="1885.4" x2="1077.3" y2="1885.4" stroke="#c000ff" stroke-width="4.2"/>
<text x="1091.6" y="1907.5" font-size="63"><tspan font-style="italic">E</tspan>|<tspan font-style="italic" dx="-2.4">z</tspan><tspan font-size="37" dx="1.8" dy="12">10</tspan><tspan dy="-12">|</tspan><tspan font-size="37" dx="-1.7" dy="-21">2</tspan><tspan dy="21">(</tspan><tspan font-style="italic">t</tspan>)</text>
<line x1="1317.7" y1="1885.4" x2="1380.5" y2="1885.4" stroke="#ff40c0" stroke-width="3.6"/>
<text x="1394.8" y="1907.5" font-size="63"><tspan font-style="italic">E</tspan>|<tspan font-style="italic" dx="-2.4">z</tspan><tspan font-size="37" dx="1.8" dy="12">11</tspan><tspan dy="-12">|</tspan><tspan font-size="37" dx="-1.7" dy="-21">2</tspan><tspan dy="21">(</tspan><tspan font-style="italic">t</tspan>)</text>
<line x1="1013.5" y1="1989.9" x2="1077.3" y2="1989.9" stroke="#c03a3a" stroke-width="3.6"/>
<text x="1091.6" y="2012" font-size="63"><tspan font-style="italic">E</tspan>|<tspan font-style="italic" dx="-2.4">z</tspan><tspan font-size="37" dx="1.8" dy="12">12</tspan><tspan dy="-12">|</tspan><tspan font-size="37" dx="-1.7" dy="-21">2</tspan><tspan dy="21">(</tspan><tspan font-style="italic">t</tspan>)</text>
<line x1="1317.7" y1="1989.9" x2="1380.5" y2="1989.9" stroke="#ffc040" stroke-width="3.6"/>
<text x="1394.8" y="2012" font-size="63"><tspan font-style="italic">E</tspan>|<tspan font-style="italic" dx="-2.4">z</tspan><tspan font-size="37" dx="1.8" dy="12">13</tspan><tspan dy="-12">|</tspan><tspan font-size="37" dx="-1.7" dy="-21">2</tspan><tspan dy="21">(</tspan><tspan font-style="italic">t</tspan>)</text>
<rect x="1309.8" y="746.5" width="533.2" height="366.3" fill="#fff" stroke="#555555" stroke-width="3"/>
<line x1="1386" y1="1112.8" x2="1386" y2="1106.3" stroke="#5a5a5a" stroke-width="3.4"/>
<line x1="1386" y1="746.5" x2="1386" y2="753" stroke="#5a5a5a" stroke-width="3.4"/>
<line x1="1538.3" y1="1112.8" x2="1538.3" y2="1106.3" stroke="#5a5a5a" stroke-width="3.4"/>
<line x1="1538.3" y1="746.5" x2="1538.3" y2="753" stroke="#5a5a5a" stroke-width="3.4"/>
<line x1="1690.7" y1="1112.8" x2="1690.7" y2="1106.3" stroke="#5a5a5a" stroke-width="3.4"/>
<line x1="1690.7" y1="746.5" x2="1690.7" y2="753" stroke="#5a5a5a" stroke-width="3.4"/>
<line x1="1843" y1="1112.8" x2="1843" y2="1106.3" stroke="#5a5a5a" stroke-width="3.4"/>
<line x1="1843" y1="746.5" x2="1843" y2="753" stroke="#5a5a5a" stroke-width="3.4"/>
<line x1="1309.8" y1="746.5" x2="1316.3" y2="746.5" stroke="#5a5a5a" stroke-width="3.4"/>
<line x1="1843" y1="746.5" x2="1836.5" y2="746.5" stroke="#5a5a5a" stroke-width="3.4"/>
<line x1="1309.8" y1="929.6" x2="1316.3" y2="929.6" stroke="#5a5a5a" stroke-width="3.4"/>
<line x1="1843" y1="929.6" x2="1836.5" y2="929.6" stroke="#5a5a5a" stroke-width="3.4"/>
<line x1="1309.8" y1="1112.8" x2="1316.3" y2="1112.8" stroke="#5a5a5a" stroke-width="3.4"/>
<line x1="1843" y1="1112.8" x2="1836.5" y2="1112.8" stroke="#5a5a5a" stroke-width="3.4"/>
<clipPath id="clip_tinset"><rect x="1309.8" y="746.5" width="533.2" height="370.3"/></clipPath>
<g clip-path="url(#clip_tinset)">
<polyline points="1309.8,913.4 1313.2,912.5 1316.6,911.5 1320.5,908.6 1324.3,912.4 1327.2,911.8 1330.1,911.5 1334,913.4 1337.8,917.3 1340.7,917.9 1343.6,919.2 1346.9,918.5 1350.1,918.1 1353.3,917.3 1356.5,917.5 1359.7,918 1363,918.2 1366.2,918.3 1369.4,918.8 1372.6,919.2 1375.8,919.8 1379.1,920.3 1382.3,921.1 1385.5,921.3 1388.7,921.6 1391.9,922.1 1401.6,923.1 1420.9,925 1459.5,927.9 1843,929.8" fill="none" stroke="#4dbeee" stroke-width="4.4" stroke-linejoin="round" stroke-linecap="butt"/>
<polyline points="1309.8,921.1 1313.2,920.6 1316.6,920.2 1320.5,921.3 1324.3,922.1 1332,923.1 1343.6,924 1355.2,923.1 1366.8,923.5 1382.3,925 1401.6,926 1440.2,927.9 1843,929.8" fill="none" stroke="#0072bd" stroke-width="4.4" stroke-linejoin="round" stroke-linecap="butt"/>
<polyline points="1309.8,908.6 1314.7,911.5 1318.5,913.4 1322.4,917.3 1326.2,915.3 1330.1,917.3 1334,921.1 1336.9,921.8 1339.8,922.1 1347.5,923.1 1355.2,924 1363,925 1382.3,926 1401.6,926.9 1440.2,928.1 1843,929.8" fill="none" stroke="#77ac30" stroke-width="4.4" stroke-linejoin="round" stroke-linecap="butt"/>
<polyline points="1309.8,885.4 1314.7,888.3 1316.6,890.3 1318.5,894.1 1322.4,896 1326.2,896 1330.1,898 1334,901.8 1336.9,902.6 1339.8,901.8 1343.6,902.3 1347.5,903.7 1351.4,906.4 1355.2,907.6 1359.1,910.1 1363,911.5 1366.8,912.7 1370.7,914.4 1374.5,914.9 1378.4,915.3 1381.6,915.6 1384.8,915.9 1388.1,916.3 1391.3,916.9 1394.5,917.2 1397.7,917.3 1400.9,917.7 1404.2,918.6 1407.4,919.2 1410.1,919.7 1412.8,920 1415.5,920.2 1418.2,920.7 1420.9,921.1 1423.7,921.4 1426.4,921.9 1429.2,922.1 1431.9,922.3 1434.7,922.4 1437.5,923 1440.2,923.1 1459.5,925 1498.2,927.9 1843,929.8" fill="none" stroke="#77ac30" stroke-width="4.4" stroke-linejoin="round" stroke-linecap="butt"/>
<polyline points="1309.8,879.6 1314.7,878.6 1317.6,875.1 1320.5,872.8 1322.4,875.6 1324.3,878.6 1326.2,883.1 1328.2,886.4 1332,884.4 1335.9,882.5 1337.8,886.3 1339.8,890.2 1343.6,894.1 1347.5,894.6 1351.4,896 1355.2,897.3 1359.1,898 1363,898.6 1366.8,899.9 1370.7,901 1374.5,901.8 1378.4,904.3 1382.3,907.6 1386.1,911.8 1390,915.3 1393.9,916.9 1397.7,919.2 1401.6,920.1 1405.5,921.1 1408.5,921.7 1411.6,921.7 1414.7,922.2 1417.8,922.6 1420.9,923.1 1440.2,925 1478.9,927.9 1843,929.8" fill="none" stroke="#d95319" stroke-width="4.4" stroke-linejoin="round" stroke-linecap="butt"/>
<polyline points="1309.8,871.9 1314.7,871.9 1315.9,868.4 1317.2,866.2 1318.5,863.2 1321.4,859.3 1324.3,863.2 1325,866.6 1325.6,869.2 1326.2,872.8 1330.1,871.9 1334,874.8 1334.9,877.1 1335.9,880.6 1337.2,884.3 1338.5,887.2 1339.8,890.2 1343.6,894.1 1347.5,896 1351.4,895.5 1355.2,896 1358.1,897.1 1361,898 1363.9,897.3 1366.8,896 1368.1,893.2 1369.4,890.2 1370.7,886.4 1373.6,890.2 1378.4,894.1 1380.3,898.8 1382.3,901.8 1384.2,905 1386.1,907.6 1388.1,911.1 1390,913.4 1392.9,915.3 1395.8,917.3 1398.7,918.1 1401.6,919.2 1404.5,920.4 1407.4,921.1 1410.3,920 1413.2,919.2 1415.1,916 1417,913.4 1420.9,915.3 1423.8,916 1426.7,917.3 1429.6,918.3 1432.5,919.2 1436.4,919.5 1440.2,919.2 1443.1,919.6 1446,920.4 1448.9,920.9 1451.8,921.1 1454.7,921.3 1457.6,921.6 1460.5,921.9 1463.4,922.1 1478.9,923.1 1498.2,924 1536.8,927.9 1843,929.8" fill="none" stroke="#edb120" stroke-width="4.4" stroke-linejoin="round" stroke-linecap="butt"/>
<polyline points="1309.8,867 1314.7,869 1318.5,869 1322.4,870.9 1326.2,874.8 1330.1,876.7 1334,878.6 1335.9,882.4 1337.8,886.4 1340.7,888.3 1343.6,890.2 1346.5,889.7 1349.4,890.2 1352.3,889.7 1355.2,888.3 1359.1,892.2 1363,894.1 1365.9,892.6 1368.7,892.2 1372.6,892.2 1375.5,894.5 1378.4,896 1382.3,898 1386.1,901.8 1390,905.7 1393.9,909.5 1397.7,907.6 1401.6,911.5 1404.5,911.8 1407.4,912.4 1410.3,912.1 1413.2,911.5 1417,907.6 1420.9,908.6 1423.8,909.4 1426.7,909.5 1429.6,908.5 1432.5,908.6 1436.4,910.5 1440.2,911.5 1444.1,911.5 1448,912.4 1451.8,915.3 1454.7,917.6 1457.6,919.2 1460.5,918 1463.4,917.3 1466.3,917.1 1469.2,916.3 1472.1,916.8 1475,917.3 1478.9,918.3 1482.7,919.2 1486.6,919.3 1490.5,919.2 1493.4,920.4 1496.2,921.1 1500.1,923.1 1509.8,923.1 1527.2,924 1546.5,924 1575.5,924.6 1605,925 1843,929.8" fill="none" stroke="#7e2f8e" stroke-width="4.4" stroke-linejoin="round" stroke-linecap="butt"/>
<polyline points="1309.8,949.1 1314.7,950.1 1318.5,953 1322.4,950.1 1326.2,948.2 1330.1,950.1 1334,948.2 1337.8,945.3 1340.7,944.9 1343.6,944.3 1347.5,943.7 1351.4,943.4 1355.2,942.5 1359.1,941.4 1363,941 1366.8,940.5 1370.7,939.9 1374.5,939.5 1378.4,938.9 1382.3,938.9 1385.5,938.6 1388.7,938.5 1391.9,938.1 1395.2,937.5 1398.4,937 1401.6,936.6 1413.2,935.6 1424.8,934.7 1440.2,933.7 1459.5,932.7 1478.9,932.3 1507.8,931.8 1536.8,930.8 1843,929.8" fill="none" stroke="#7e2f8e" stroke-width="4.4" stroke-linejoin="round" stroke-linecap="butt"/>
<polyline points="1309.8,983 1313.7,981 1315.1,977.6 1316.6,975.2 1320.5,971.4 1324.3,971.4 1328.2,967.5 1332,965.6 1334,969.3 1335.9,971.4 1339.8,969.4 1343.6,967.5 1347.5,963.6 1350.4,961.4 1353.3,959.8 1356.2,958.4 1359.1,955.9 1362,952.7 1364.9,950.1 1367.8,948.1 1370.7,946.2 1374.5,945.6 1378.4,944.3 1382.3,943.7 1386.1,942.4 1390,942.2 1393.9,941.4 1397.7,940.9 1401.6,940.5 1405.5,939.3 1409.3,938.5 1413.2,937.6 1417,936.6 1440.2,932.7 1478.9,930.8 1843,929.8" fill="none" stroke="#0072bd" stroke-width="4.4" stroke-linejoin="round" stroke-linecap="butt"/>
<polyline points="1309.8,1000.3 1311.3,996.7 1312.7,994.5 1313.5,990.6 1314.3,987.8 1315,986 1315.8,981.6 1316.6,979.1 1317.6,975.6 1318.5,971.4 1322.4,967.5 1323.4,971.8 1324.3,975.2 1325.3,972.3 1326.2,968.9 1327.2,967.1 1328.2,963.6 1332,959.8 1334,963.5 1335.9,965.6 1339.8,967.5 1343.6,963.6 1347.5,959.8 1349.4,956.7 1351.4,954 1353.3,951.1 1355.2,948.2 1359.1,948.2 1363,946.2 1366.8,944.3 1370.7,941.1 1374.5,938.5 1378.4,937.6 1382.3,936.6 1391.9,935.6 1401.6,934.7 1413.2,933.7 1420.9,932.7 1459.5,931.2 1843,929.8" fill="none" stroke="#edb120" stroke-width="4.4" stroke-linejoin="round" stroke-linecap="butt"/>
<polyline points="1309.8,1015.8 1312.7,1011.9 1316.6,1008.1 1320.5,1006.1 1324.3,1004.2 1326.2,1000.4 1328.2,996.5 1330.1,993 1332,990.7 1335.9,992.6 1339.8,994.5 1341.7,991.2 1343.6,988.7 1346.5,985.5 1349.4,983 1353.3,979.1 1354.6,976 1355.9,973.3 1357.2,969.4 1361,965.6 1364.9,963.6 1366.8,960.8 1368.7,957.8 1370.7,954.4 1372.6,950.1 1375.5,949.9 1378.4,950.1 1381.3,951 1384.2,952 1387.1,953.4 1390,954 1393.9,950.1 1397.7,948.2 1401.6,952 1405.5,948.2 1407.4,945.6 1409.3,942.4 1413.2,940.5 1417,937.6 1424.8,935.6 1440.2,933.7 1478.9,931.2 1843,929.8" fill="none" stroke="#d95319" stroke-width="4.4" stroke-linejoin="round" stroke-linecap="butt"/>
<polyline points="1311,929.5 1843,929.5" fill="none" stroke="#4dbeee" stroke-width="5.6" stroke-linejoin="round" stroke-linecap="butt"/>
</g>
<polyline points="1309.8,1112.8 1309.8,746.5 1843,746.5 1843,1112.8" fill="none" stroke="#555555" stroke-width="3"/>
<text x="1386" y="1190" font-size="63" text-anchor="middle">2</text>
<text x="1538.3" y="1190" font-size="63" text-anchor="middle">4</text>
<text x="1690.7" y="1190" font-size="63" text-anchor="middle">6</text>
<text x="1843" y="1190" font-size="63" text-anchor="middle">8</text>
<text x="1282" y="767.5" font-size="63" text-anchor="end">5</text>
<text x="1282" y="950.6" font-size="63" text-anchor="end">0</text>
<text x="1282" y="1133.8" font-size="63" text-anchor="end">−5</text>
<rect x="1311.2" y="2241.1" width="534" height="364.9" fill="#fff" stroke="#555555" stroke-width="3"/>
<line x1="1311.2" y1="2606" x2="1311.2" y2="2599.5" stroke="#5a5a5a" stroke-width="3.4"/>
<line x1="1311.2" y1="2241.1" x2="1311.2" y2="2247.6" stroke="#5a5a5a" stroke-width="3.4"/>
<line x1="1524.8" y1="2606" x2="1524.8" y2="2599.5" stroke="#5a5a5a" stroke-width="3.4"/>
<line x1="1524.8" y1="2241.1" x2="1524.8" y2="2247.6" stroke="#5a5a5a" stroke-width="3.4"/>
<line x1="1738.4" y1="2606" x2="1738.4" y2="2599.5" stroke="#5a5a5a" stroke-width="3.4"/>
<line x1="1738.4" y1="2241.1" x2="1738.4" y2="2247.6" stroke="#5a5a5a" stroke-width="3.4"/>
<line x1="1311.2" y1="2241.1" x2="1317.7" y2="2241.1" stroke="#5a5a5a" stroke-width="3.4"/>
<line x1="1845.2" y1="2241.1" x2="1838.7" y2="2241.1" stroke="#5a5a5a" stroke-width="3.4"/>
<line x1="1311.2" y1="2423.6" x2="1317.7" y2="2423.6" stroke="#5a5a5a" stroke-width="3.4"/>
<line x1="1845.2" y1="2423.6" x2="1838.7" y2="2423.6" stroke="#5a5a5a" stroke-width="3.4"/>
<line x1="1311.2" y1="2606" x2="1317.7" y2="2606" stroke="#5a5a5a" stroke-width="3.4"/>
<line x1="1845.2" y1="2606" x2="1838.7" y2="2606" stroke="#5a5a5a" stroke-width="3.4"/>
<clipPath id="clip_binset"><rect x="1311.2" y="2241.1" width="534" height="368.9"/></clipPath>
<g clip-path="url(#clip_binset)">
<polyline points="1311.8,2596.2 1316.6,2594.3 1320.5,2596.2 1322.4,2600.1 1328.2,2602 1845,2604" fill="none" stroke="#a2142f" stroke-width="4.4" stroke-linejoin="round" stroke-linecap="butt"/>
<polyline points="1311.8,2586.6 1314.7,2587.2 1317.6,2587.8 1320.5,2588.5 1324.3,2589.7 1328.2,2590.5 1332,2592.5 1335.9,2594.3 1343.6,2598.2 1351.4,2600.1 1363,2602 1845,2604" fill="none" stroke="#0072bd" stroke-width="4.4" stroke-linejoin="round" stroke-linecap="butt"/>
<polyline points="1311.8,2559.5 1314.7,2563.4 1318.5,2565.3 1322.4,2563.4 1326.2,2565.3 1330.1,2567.3 1334,2569.2 1337.8,2571.1 1341.7,2575 1343.6,2578.3 1345.6,2580.8 1347.5,2583.3 1349.4,2586.6 1353.3,2590.5 1357.2,2594.3 1361,2598.2 1366.8,2600.1 1382.3,2602 1845,2604" fill="none" stroke="#4dbeee" stroke-width="4.4" stroke-linejoin="round" stroke-linecap="butt"/>
<polyline points="1311.8,2582.7 1316.6,2584.7 1320.5,2586.6 1324.3,2584.7 1328.2,2582.7 1332,2586.6 1335.9,2588.5 1339.8,2584.7 1343.6,2580.8 1347.5,2578.9 1351.4,2580.8 1355.2,2582.7 1359.1,2578.9 1363,2575 1366.8,2576.9 1370.7,2580.8 1374.5,2582.7 1376.5,2585.4 1378.4,2588.5 1382.3,2590.5 1386.1,2591.3 1390,2592.4 1393.9,2592.5 1397.7,2592.4 1401.6,2593.6 1405.5,2594.3 1413.2,2596.2 1420.9,2598.2 1440.2,2601.1 1845,2604" fill="none" stroke="#77ac30" stroke-width="4.4" stroke-linejoin="round" stroke-linecap="butt"/>
<polyline points="1311.8,2453.3 1312.7,2455.8 1313.7,2459.6 1314.7,2463 1315.4,2464.8 1316.2,2467.6 1317,2471.2 1317.7,2473.5 1318.5,2476.5 1319.3,2479.4 1320.1,2481.9 1320.8,2486.4 1321.6,2489.1 1322.4,2491.9 1323.7,2495.1 1325,2498.4 1326.2,2501.6 1328.2,2504.9 1330.1,2509.3 1332,2512.4 1334,2515.1 1334.7,2518.3 1335.5,2520 1336.3,2522.6 1337.1,2525.9 1337.8,2528.6 1341.7,2530.6 1342.7,2527 1343.6,2524.6 1344.6,2521.5 1345.6,2519 1346.5,2521.1 1347.5,2524.8 1349.4,2528.3 1351.4,2532.5 1355.2,2536.4 1357.2,2533.1 1359.1,2528.6 1363,2524.8 1366.8,2520.9 1368.7,2523.9 1370.7,2526.7 1372.6,2529.1 1374.5,2532.5 1378.4,2536.4 1382.3,2540.2 1384.2,2543.3 1386.1,2548 1390,2551.8 1393.9,2555.7 1397.7,2559.5 1401.6,2563.4 1405.5,2565.3 1409.3,2565.7 1413.2,2567.3 1417,2569.9 1420.9,2571.1 1424.8,2573.4 1428.6,2575 1432.5,2577 1436.4,2578.9 1440.2,2580.8 1444.1,2582.7 1448,2585 1451.8,2586.6 1455.7,2587.3 1459.5,2588.5 1462.8,2590 1466,2591.3 1469.2,2592.4 1472.4,2593.6 1475.6,2595.1 1478.9,2596.2 1498.2,2600.1 1845,2604" fill="none" stroke="#77ac30" stroke-width="4.4" stroke-linejoin="round" stroke-linecap="butt"/>
<polyline points="1311.8,2457.2 1314.7,2461 1315.9,2463.4 1317.2,2468.3 1318.5,2470.7 1319.3,2474.2 1320.1,2477.5 1320.8,2480.6 1321.6,2483.2 1322.4,2486.1 1322.7,2489.2 1322.9,2490.9 1323.2,2494.2 1323.5,2497.3 1323.8,2499.4 1324,2502.2 1324.3,2505.5 1324.7,2508.2 1325.1,2510.8 1325.5,2514.8 1325.9,2517.9 1326.2,2520.9 1328.2,2524.8 1332,2528.6 1335.9,2530.6 1336.9,2533.1 1337.8,2536.4 1338.8,2539.6 1339.8,2544.1 1340.4,2547.8 1341.1,2550.9 1341.7,2553.7 1342.3,2556.6 1343,2560.2 1343.6,2563.4 1344.6,2567.3 1345.6,2571.1 1349.4,2573.1 1353.3,2576.9 1357.2,2580.8 1358.1,2584.6 1359.1,2588.5 1360.1,2591.7 1361,2594.3 1363,2596.2 1370.7,2598.2 1378.4,2599.1 1386.1,2600.1 1401.6,2600.1 1420.9,2599.1 1440.2,2600.1 1459.5,2601.7 1845,2604" fill="none" stroke="#7e2f8e" stroke-width="4.4" stroke-linejoin="round" stroke-linecap="butt"/>
<polyline points="1311.8,2401.1 1314.7,2405 1315,2407.6 1315.4,2410.3 1315.8,2412.9 1316.2,2415.5 1316.6,2418.5 1317.1,2420.6 1317.7,2423.2 1318.2,2426.1 1318.8,2430.3 1319.4,2432 1319.9,2434.4 1320.5,2437.8 1321.7,2441.9 1323,2444.5 1324.3,2447.5 1325.6,2450.6 1326.9,2453.3 1328.2,2457.2 1329.5,2461.2 1330.8,2463.9 1332,2466.8 1332.4,2470.7 1332.8,2472.5 1333.2,2476.7 1333.6,2479.1 1334,2482.3 1337.8,2486.1 1339.8,2489 1341.7,2491.9 1343.6,2496.7 1345.6,2499.7 1347.5,2503.3 1349.4,2505.5 1351.4,2507.7 1353.3,2511.2 1353.9,2513.7 1354.6,2517.5 1355.2,2520.9 1355.7,2524.4 1356.2,2527.1 1356.7,2529.9 1357.2,2532.5 1357.6,2536 1358.1,2538.2 1358.6,2541 1359.1,2544.1 1359.7,2547.5 1360.4,2550 1361,2553.7 1361.7,2557.5 1362.3,2560.5 1363,2563.4 1364.9,2567.3 1365.9,2564.8 1366.8,2561.5 1370.7,2563.4 1372.6,2567.9 1374.5,2571.1 1374.8,2569 1375.1,2565.4 1375.4,2562.5 1375.6,2560 1375.9,2556.9 1376.2,2554.1 1376.5,2551.8 1378.4,2548 1382.3,2551.8 1386.1,2555.7 1390,2559.5 1393.9,2563.4 1397.7,2567.3 1399.7,2569.7 1401.6,2573.1 1405.5,2575 1409.3,2576.9 1413.2,2575 1417,2578.9 1420.9,2580.8 1424.8,2582.7 1427.9,2584 1431,2584.7 1434,2586.2 1437.1,2587.6 1440.2,2588.5 1443,2589 1445.7,2590.2 1448.5,2590.7 1451.3,2591.9 1454,2592.8 1456.8,2593.3 1459.5,2594.3 1478.9,2598.2 1498.2,2601.1 1845,2604" fill="none" stroke="#d95319" stroke-width="4.4" stroke-linejoin="round" stroke-linecap="butt"/>
<polyline points="1311.8,2285.2 1312.7,2289.4 1313.7,2293 1314.1,2295 1314.5,2299 1314.9,2301.3 1315.3,2303.8 1315.8,2307.2 1316.2,2309.8 1316.6,2312.3 1316.9,2315 1317.1,2317 1317.4,2320.7 1317.7,2323.8 1318,2326.8 1318.2,2329.6 1318.5,2331.6 1319.5,2335.5 1320.5,2339.3 1321.4,2342.1 1322.4,2344.6 1323.4,2347.5 1324.3,2350.9 1325,2354 1325.6,2356.8 1326.2,2360.6 1326.5,2363 1326.8,2366.5 1327.1,2369 1327.4,2372.2 1327.6,2374.7 1327.9,2376.6 1328.2,2379.9 1328.8,2382.5 1329.5,2386.1 1330.1,2389.5 1330.9,2393.2 1331.7,2395 1332.4,2399 1333.2,2402.7 1334,2405 1334.7,2407.1 1335.5,2410 1336.3,2413 1337.1,2415.2 1337.8,2418.5 1338.6,2422 1339.4,2424.4 1340.2,2426 1340.9,2428.6 1341.7,2432 1342.5,2435.7 1343.2,2438.6 1344,2441 1344.8,2443.6 1345.6,2447.5 1346.3,2449.8 1347.1,2453.4 1347.9,2457.6 1348.7,2459.9 1349.4,2463 1350.2,2465.1 1351,2467.9 1351.7,2471.3 1352.5,2473.4 1353.3,2476.5 1355.2,2479.1 1357.2,2482.3 1361,2486.1 1363,2490.9 1364.9,2493.9 1366.8,2497.9 1368.7,2501.6 1372.6,2505.5 1376.5,2509.3 1378.4,2512 1380.3,2515.1 1382.3,2517.3 1384.2,2520.9 1385.5,2524.1 1386.8,2526.8 1388.1,2530.6 1390,2534.5 1391.9,2536.8 1393.9,2540.2 1395.8,2544.4 1397.7,2548 1399.7,2551.4 1401.6,2553.7 1405.5,2551.8 1407.4,2554 1409.3,2557.6 1413.2,2559.5 1417,2555.7 1420.9,2557.6 1424.8,2561.5 1428.6,2563.4 1430.6,2559.8 1432.5,2555.7 1436.4,2559.5 1440.2,2563.4 1444.1,2567.3 1448,2569.2 1451.8,2571.1 1453.7,2574.7 1455.7,2576.9 1459.5,2580.8 1463.4,2582.7 1466.3,2583.3 1469.2,2584.7 1472.1,2585.3 1475,2586.6 1478.9,2587.4 1482.7,2588.5 1486.6,2589.6 1490.5,2590.5 1494.3,2590.4 1498.2,2590.5 1502,2589.5 1505.9,2588.5 1509.8,2589.5 1513.6,2590.5 1517.5,2592.6 1521.4,2594.3 1529.1,2596.2 1536.8,2598.2 1546.5,2600.1 1556.1,2601.1 1567.7,2599.1 1575.5,2599.1 1585.1,2600.1 1594.8,2600.1 1605,2601.1 1845,2604" fill="none" stroke="#7e2f8e" stroke-width="4.4" stroke-linejoin="round" stroke-linecap="butt"/>
<polyline points="1312.3,2240.8 1312.8,2244 1313.3,2246.1 1313.7,2249.7 1314.2,2251.1 1314.7,2254.3 1315,2257.1 1315.4,2259.5 1315.7,2261.8 1316.1,2264.1 1316.4,2268 1316.8,2270.2 1317.1,2272.9 1317.5,2275.9 1317.8,2278.5 1318.2,2280.2 1318.5,2283.3 1318.9,2286.7 1319.3,2290.3 1319.7,2293.3 1320.1,2294.9 1320.5,2298.7 1324.3,2296.8 1325.3,2299.1 1326.2,2302.6 1326.9,2305.1 1327.5,2308.2 1328.2,2312.3 1328.8,2315 1329.5,2318.9 1330.1,2321.9 1330.8,2324.8 1331.4,2328.3 1332,2331.6 1332.5,2334.3 1333,2337.9 1333.5,2339.4 1334,2343.2 1334.5,2345.2 1334.9,2349.3 1335.4,2351.1 1335.9,2354.8 1336.4,2356.8 1336.9,2361.1 1337.4,2364 1337.8,2366.4 1338.6,2369 1339.4,2373.4 1340.2,2375.7 1340.9,2377.8 1341.7,2381.8 1342.5,2385.1 1343.2,2388.1 1344,2391.4 1344.8,2393.9 1345.6,2397.3 1346.3,2400.4 1347.1,2402.6 1347.9,2405.8 1348.7,2410.2 1349.4,2412.7 1350.2,2416.3 1351,2418.2 1351.7,2421.3 1352.5,2424.5 1353.3,2428.2 1353.8,2430.5 1354.4,2433.4 1355,2435.6 1355.5,2439.2 1356.1,2441.2 1356.6,2445.3 1357.2,2447.5 1357.9,2451.2 1358.7,2453.3 1359.5,2456.9 1360.2,2459.2 1361,2463 1361.8,2466.9 1362.6,2470 1363.3,2472.2 1364.1,2474.6 1364.9,2478.4 1365.9,2481.6 1366.8,2483.4 1367.8,2486.3 1368.7,2490 1370,2492.6 1371.3,2497.2 1372.6,2499.7 1373.3,2502.3 1373.9,2506.9 1374.5,2509.3 1378.4,2513.2 1382.3,2515.1 1384.2,2518.6 1386.1,2520.9 1390,2524.8 1391.9,2528.1 1393.9,2530.6 1394.8,2534.9 1395.8,2538.3 1396.8,2540.9 1397.7,2544.1 1398.4,2547.6 1399,2549.8 1399.7,2553.7 1400.3,2556.1 1400.9,2560.7 1401.6,2563.4 1405.5,2567.3 1409.3,2569.2 1413.2,2567.3 1417,2571.1 1420.9,2569.2 1424.8,2573.1 1428.6,2575 1432.5,2576.9 1436.4,2578.9 1440.2,2580.8 1444.1,2582.7 1448,2583.8 1451.8,2584.7 1455.7,2584.4 1459.5,2584.7 1463.4,2586.6 1467.3,2588.5 1471.1,2589.4 1475,2590.5 1478.9,2593.4 1482.7,2596.2 1490.5,2598.2 1498.2,2600.1 1517.5,2601.7 1845,2604" fill="none" stroke="#0072bd" stroke-width="4.4" stroke-linejoin="round" stroke-linecap="butt"/>
<polyline points="1320.5,2240.8 1320.5,2244.1 1320.6,2246.4 1320.7,2248.4 1320.8,2252.5 1320.9,2254.7 1320.9,2257.1 1321,2260.8 1321.1,2263.2 1321.2,2264.9 1321.3,2267.4 1321.3,2270.7 1321.4,2273.6 1321.6,2275.9 1321.7,2278.5 1321.8,2282.1 1322,2284.1 1322.1,2288.2 1322.2,2290.1 1322.4,2293 1322.5,2295.1 1322.7,2298.6 1322.8,2301.5 1322.9,2303.7 1323.1,2307.3 1323.2,2309.2 1323.4,2312.3 1323.5,2315.9 1323.6,2317.3 1323.8,2320.4 1323.9,2323.4 1324,2325.8 1324.2,2328.4 1324.3,2331.6 1324.6,2335.1 1324.9,2336.6 1325.1,2340.6 1325.4,2342.5 1325.7,2345.2 1326,2348.6 1326.2,2350.9 1326.6,2353.1 1327,2356.9 1327.3,2358.1 1327.7,2362.3 1328,2365 1328.4,2367 1328.7,2369.1 1329.1,2371.7 1329.4,2375.1 1329.8,2377.9 1330.1,2379.9 1330.6,2383.1 1331.2,2385.6 1331.7,2387.8 1332.2,2391.3 1332.7,2393 1333.3,2395.5 1333.8,2397.8 1334.3,2400.4 1334.9,2402.7 1335.4,2406.4 1335.9,2408.9 1336.4,2412.3 1337,2414.4 1337.5,2417.5 1338,2419.1 1338.5,2422.9 1339.1,2424.8 1339.6,2426.9 1340.1,2429.6 1340.7,2432 1341.2,2434.7 1341.7,2437.8 1342.3,2441.2 1343,2443.5 1343.6,2445.8 1344.3,2449.7 1344.9,2452.2 1345.6,2455.3 1346.2,2457.2 1346.9,2461 1347.5,2463 1348.3,2465.4 1349.2,2468.9 1350,2470.9 1350.8,2474.4 1351.6,2475.9 1352.5,2478.8 1353.3,2482.3 1357.2,2486.1 1357.5,2489.1 1357.9,2492.1 1358.2,2494 1358.6,2497.4 1358.9,2498.4 1359.3,2501.8 1359.6,2504.3 1360,2506.8 1360.3,2509.8 1360.7,2513.3 1361,2515.1 1361.4,2517.1 1361.8,2521 1362.2,2523.2 1362.6,2525.3 1363,2528.6 1363.4,2532.3 1363.9,2534.9 1364.4,2537.6 1364.9,2540.2 1365.9,2544.4 1366.8,2548 1370.7,2544.1 1371.6,2548.2 1372.6,2551.8 1374.5,2555.7 1375,2552 1375.5,2550.5 1376,2546.6 1376.5,2544.1 1377,2541.4 1377.4,2538.6 1377.9,2535.4 1378.4,2532.5 1382.3,2536.4 1386.1,2540.2 1390,2544.1 1391.9,2548.4 1393.9,2551.8 1394.8,2555.3 1395.8,2558.2 1396.8,2561.2 1397.7,2563.4 1398.7,2566.9 1399.7,2569.9 1400.6,2572.6 1401.6,2575 1405.5,2578.9 1409.3,2575 1411.2,2571.6 1413.2,2567.3 1417,2563.4 1419,2567 1420.9,2571.1 1422.8,2575.3 1424.8,2578.9 1428.6,2575 1429.6,2572.7 1430.6,2569.6 1431.5,2566.1 1432.5,2563.4 1433.3,2566.4 1434,2570.1 1434.8,2573.3 1435.6,2576.2 1436.4,2578.9 1438.3,2582.8 1440.2,2586.6 1444.1,2582.7 1444.9,2579.2 1445.6,2577 1446.4,2573.5 1447.2,2570.2 1448,2567.3 1448.7,2570.9 1449.5,2573.4 1450.3,2576 1451,2579.7 1451.8,2582.7 1453.7,2586.9 1455.7,2590.5 1459.5,2594.3 1469.2,2598.2 1478.9,2600.1 1498.2,2601.7 1845,2604" fill="none" stroke="#edb120" stroke-width="4.4" stroke-linejoin="round" stroke-linecap="butt"/>
<polyline points="1356.2,2240.8 1356.6,2243.1 1356.9,2247.4 1357.3,2248.6 1357.6,2252.1 1358,2256.2 1358.4,2258.5 1358.7,2261 1359.1,2264 1359.4,2266.2 1359.6,2268.9 1359.9,2271.4 1360.2,2275.7 1360.5,2278.4 1360.7,2280.9 1361,2283.3 1361.2,2285.2 1361.4,2287.9 1361.5,2291.3 1361.7,2293.8 1361.9,2296.9 1362.1,2299.9 1362.3,2302.3 1362.4,2304.2 1362.6,2306.1 1362.8,2310.4 1363,2312.3 1363.2,2314.3 1363.5,2317.4 1363.8,2320.8 1364.1,2323.2 1364.3,2325.3 1364.6,2329.6 1364.9,2331.6 1365.9,2334.1 1366.8,2338 1367.8,2340.2 1368.7,2343.2 1369.4,2346.1 1370,2348.5 1370.7,2351.5 1371.3,2354.1 1372,2356.9 1372.6,2360.6 1373.2,2363.4 1373.7,2367 1374.3,2368.7 1374.8,2370.9 1375.4,2374.9 1375.9,2377.7 1376.5,2379.9 1377,2382.2 1377.6,2386.3 1378.1,2388.5 1378.7,2390.3 1379.2,2393 1379.8,2397.2 1380.3,2399.2 1381.1,2401.1 1381.9,2403.8 1382.7,2406.5 1383.4,2410.1 1384.2,2412.7 1385,2415.8 1385.7,2419.7 1386.5,2421.2 1387.3,2426 1388.1,2428.2 1388.8,2432 1389.6,2433.9 1390.4,2437 1391.2,2440.6 1391.9,2443.6 1392.4,2446 1392.9,2449.7 1393.4,2453.1 1393.9,2455.7 1394.3,2457.7 1394.8,2461 1395.3,2463.5 1395.8,2466.8 1396.6,2470.1 1397.3,2472.1 1398.1,2475.7 1398.9,2478.5 1399.7,2482.3 1400,2485.7 1400.3,2487.9 1400.6,2491.7 1400.9,2493.4 1401.3,2495.9 1401.6,2499.7 1405.5,2501.6 1409.3,2505.5 1410.6,2508.4 1411.9,2511.1 1413.2,2515.1 1417,2517 1418,2513.6 1419,2511.3 1419.9,2507.5 1420.9,2505.5 1422.2,2509.5 1423.5,2512.4 1424.8,2515.1 1428.6,2517 1432.5,2520.9 1434.4,2525.1 1436.4,2528.6 1440.2,2530.6 1444.1,2534.4 1446,2537.7 1448,2540.2 1449.2,2542.8 1450.5,2547.2 1451.8,2549.9 1455.7,2548 1459.5,2544.1 1463.4,2548 1465.3,2551.5 1467.3,2555.7 1471.1,2559.5 1475,2563.4 1476.9,2566.6 1478.9,2571.1 1482.7,2575 1484.7,2578.4 1486.6,2582.7 1490.5,2586.6 1494.3,2588.5 1498.2,2590.5 1502,2592.4 1505.9,2593.2 1509.8,2594.3 1517.5,2596.2 1527.2,2598.2 1536.8,2598.2 1546.5,2597.2 1556.1,2600.1 1575.5,2601.7 1845,2604" fill="none" stroke="#d95319" stroke-width="4.4" stroke-linejoin="round" stroke-linecap="butt"/>
<polyline points="1366.8,2240.8 1367.2,2243 1367.6,2245.9 1368,2249.1 1368.4,2251.1 1368.7,2254.3 1369.1,2258.1 1369.5,2260.3 1369.9,2263.1 1370.3,2265.8 1370.7,2269.8 1372.6,2273.6 1373.6,2278.3 1374.5,2281.4 1374.6,2284.5 1374.7,2287.5 1374.8,2290.3 1374.9,2293 1375,2294.9 1375.1,2298.9 1375.2,2301.2 1375.2,2304.2 1375.3,2307 1375.4,2309.9 1375.5,2312.3 1375.6,2315.2 1375.8,2317 1375.9,2321.1 1376.1,2323.5 1376.2,2326.2 1376.3,2328.9 1376.5,2330.7 1376.6,2333.6 1376.8,2337.4 1376.9,2339.9 1377,2343 1377.2,2344.9 1377.3,2347.4 1377.4,2350.9 1377.6,2353.2 1377.8,2355.8 1378,2359.1 1378.1,2361.1 1378.3,2364.7 1378.5,2366.7 1378.7,2369.1 1378.8,2372.7 1379,2375 1379.2,2377.8 1379.4,2379.9 1379.8,2382 1380.2,2384.9 1380.6,2388.2 1381,2390.5 1381.4,2393.8 1381.9,2397.1 1382.3,2399.2 1383,2401.7 1383.8,2404.5 1384.6,2407.8 1385.4,2409.5 1386.1,2412.7 1386.9,2415 1387.7,2418.8 1388.5,2421.2 1389.2,2425.8 1390,2428.2 1390.8,2430.5 1391.5,2433.8 1392.3,2437.6 1393.1,2440.7 1393.9,2443.6 1394.6,2446.5 1395.4,2448.4 1396.2,2451.8 1397,2453.8 1397.7,2457.2 1399.7,2460.7 1401.6,2463 1402.1,2466.7 1402.6,2468.9 1403,2471.2 1403.5,2474.6 1404,2477.2 1404.5,2480.3 1405,2482.6 1405.5,2486.1 1406.2,2488.5 1407,2492.2 1407.8,2495.2 1408.5,2499 1409.3,2501.6 1413.2,2505.5 1414.5,2508 1415.8,2512.5 1417,2515.1 1417.3,2518.4 1417.6,2520.5 1417.9,2524.3 1418.1,2525.4 1418.4,2528.9 1418.7,2532.3 1419,2534.4 1419.4,2537.5 1419.7,2539.4 1420.1,2542.6 1420.5,2544.4 1420.9,2548 1421.9,2550.5 1422.8,2554.3 1423.8,2556.4 1424.8,2559.5 1428.6,2563.4 1429.9,2560 1431.2,2557.7 1432.5,2553.7 1436.4,2551.8 1437.3,2555.1 1438.3,2557.9 1439.3,2560 1440.2,2563.4 1441.2,2566.7 1442.2,2569.2 1443.1,2572 1444.1,2575 1446,2571.6 1448,2567.3 1451.8,2563.4 1452.8,2565.8 1453.7,2569 1454.7,2572.2 1455.7,2575 1456.6,2577.9 1457.6,2580.8 1458.6,2583.9 1459.5,2586.6 1461.5,2589.6 1463.4,2592.4 1467.3,2594.2 1471.1,2596.2 1478.9,2598.2 1490.5,2600.1 1502,2598.2 1502.8,2595.4 1503.6,2593 1504.4,2590 1505.1,2587.1 1505.9,2584.7 1507.8,2588.5 1509.8,2592.4 1513.6,2595.4 1517.5,2598.2 1527.2,2600.1 1536.8,2601.7 1845,2604" fill="none" stroke="#edb120" stroke-width="4.4" stroke-linejoin="round" stroke-linecap="butt"/>
<polyline points="1313,2606 1845,2606" fill="none" stroke="#4dbeee" stroke-width="6.0" stroke-linejoin="round" stroke-linecap="butt"/>
</g>
<polyline points="1311.2,2606 1311.2,2241.1 1845.2,2241.1 1845.2,2606" fill="none" stroke="#555555" stroke-width="3"/>
<text x="1311.2" y="2682" font-size="63" text-anchor="middle">0</text>
<text x="1524.8" y="2682" font-size="63" text-anchor="middle">2</text>
<text x="1738.4" y="2682" font-size="63" text-anchor="middle">4</text>
<text x="1288" y="2262.1" font-size="63" text-anchor="end">20</text>
<text x="1288" y="2444.6" font-size="63" text-anchor="end">10</text>
<text x="1288" y="2627" font-size="63" text-anchor="end">0</text>
</svg>
</body></html>
